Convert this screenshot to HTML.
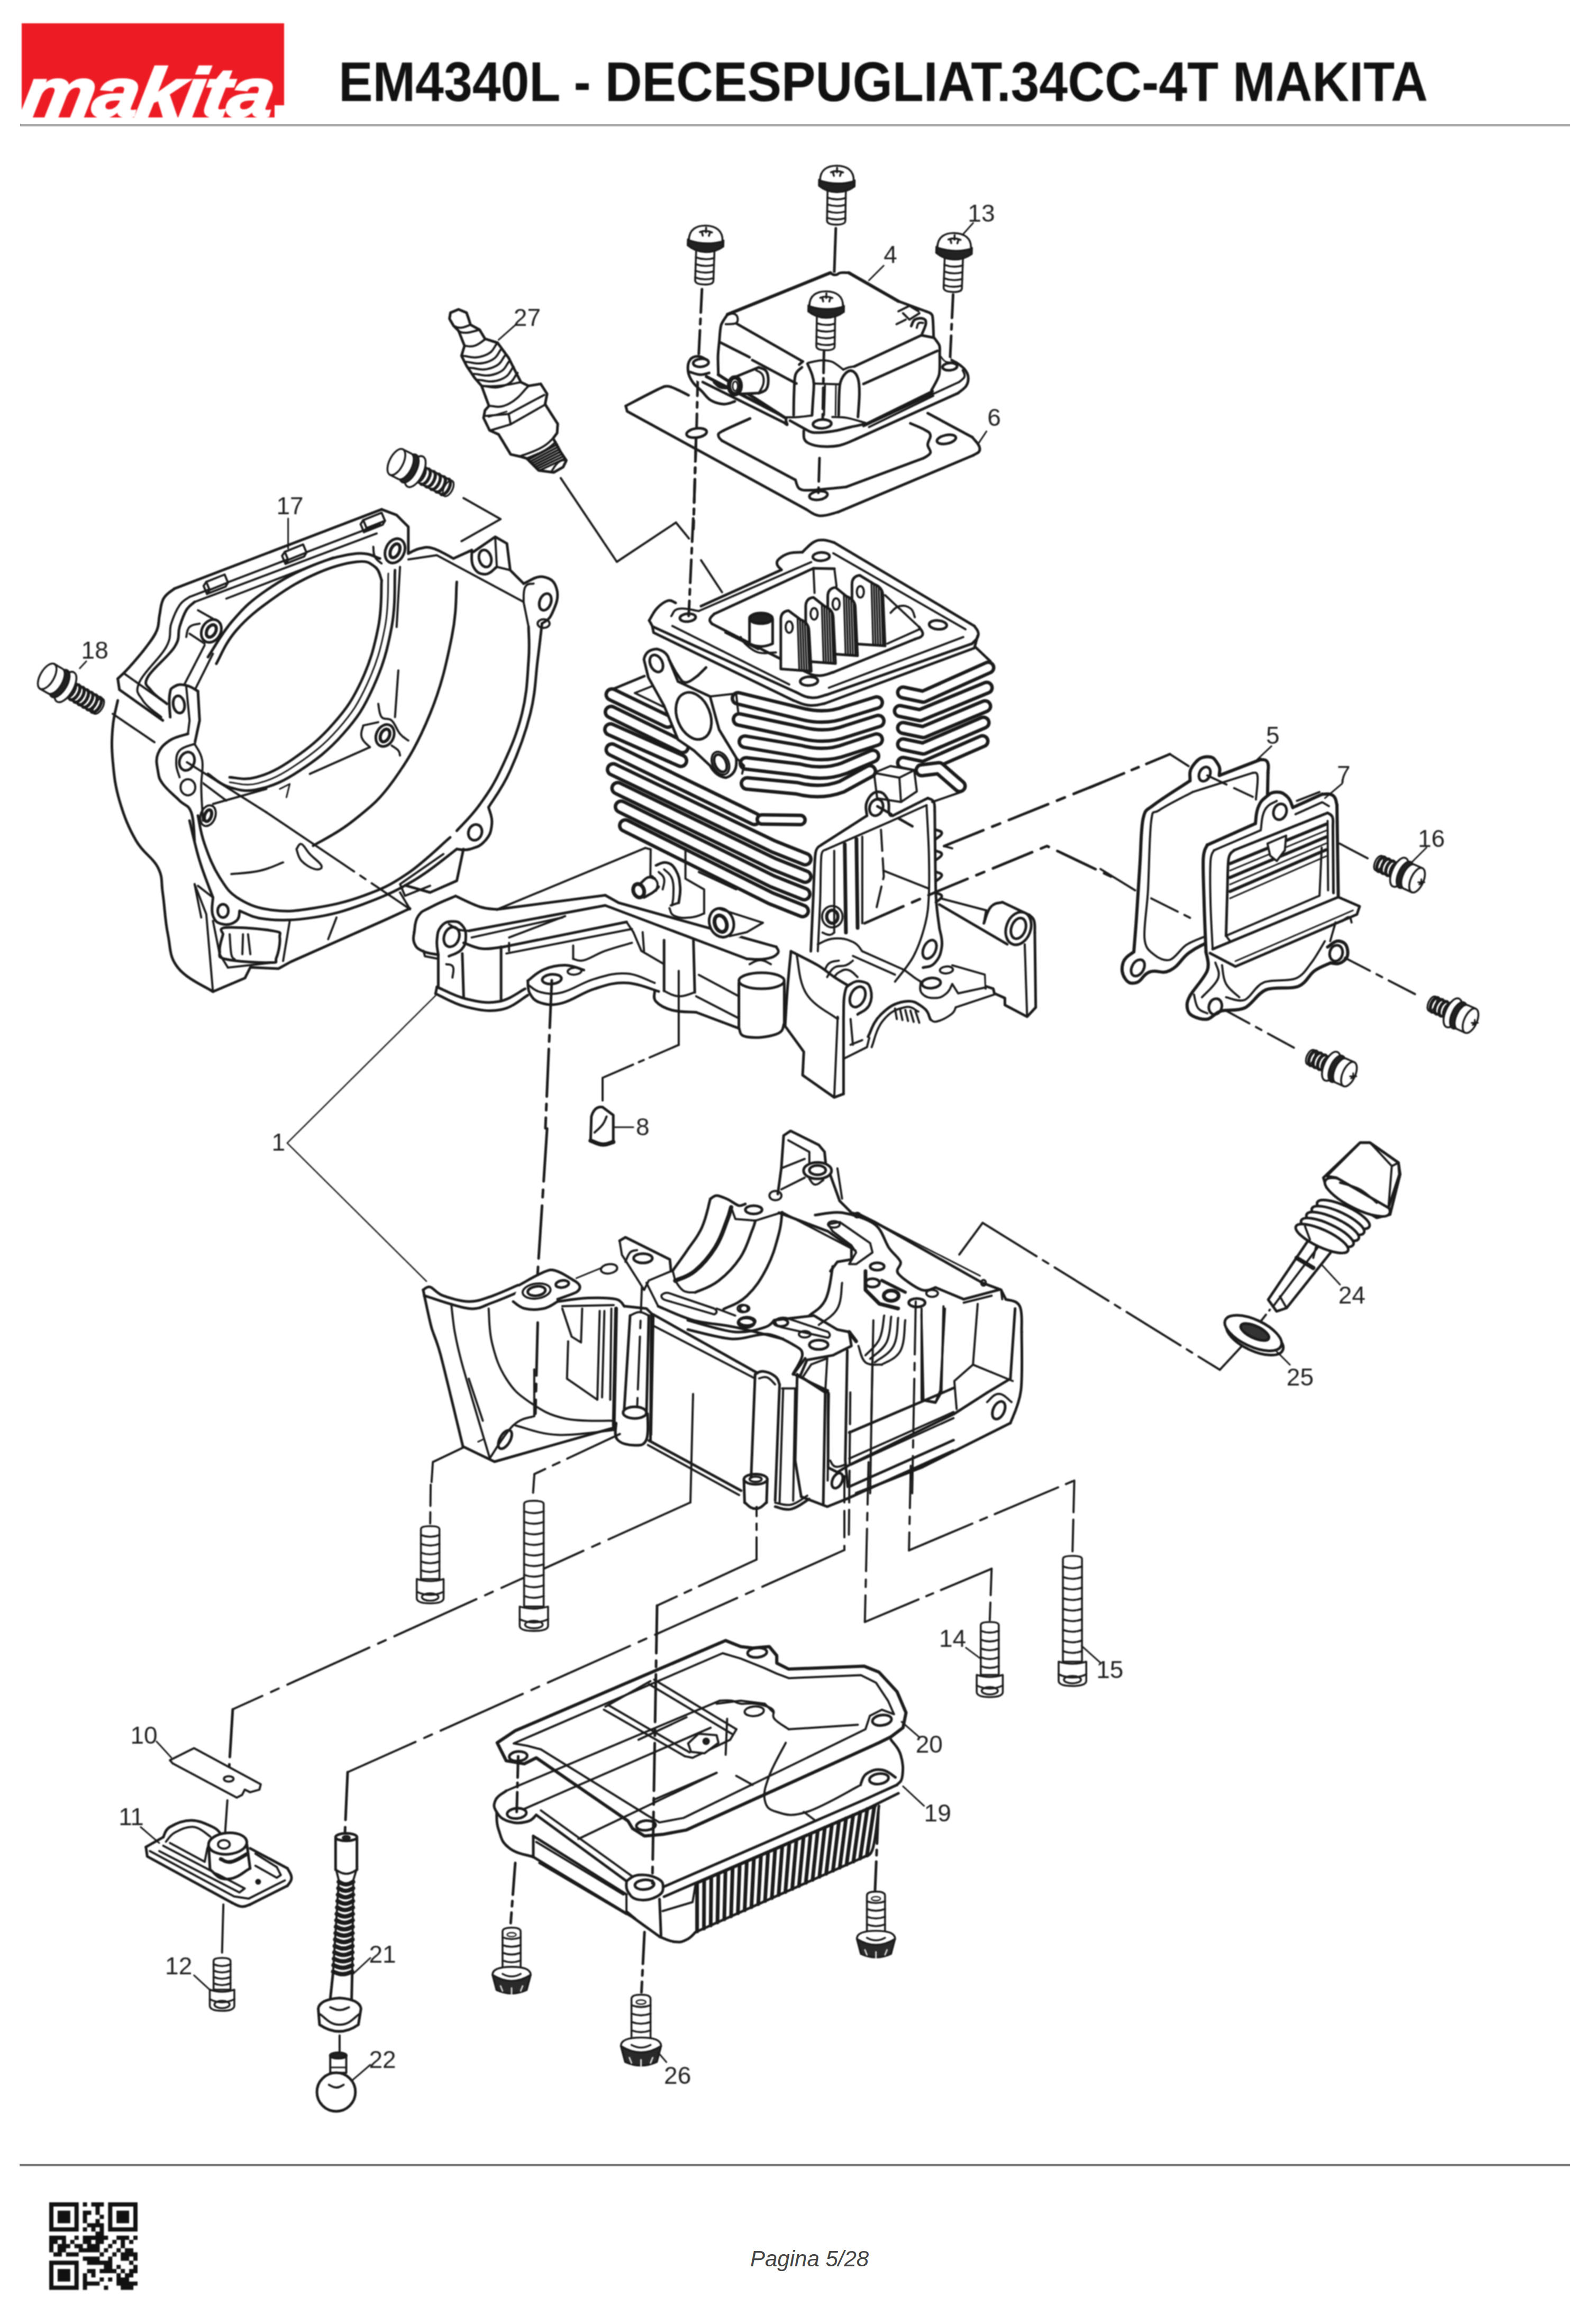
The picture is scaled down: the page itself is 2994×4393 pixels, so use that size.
<!DOCTYPE html>
<html lang="it">
<head>
<meta charset="utf-8">
<title>EM4340L - DECESPUGLIAT.34CC-4T MAKITA</title>
<style>
html,body{margin:0;padding:0;background:#fff;}
body{width:2994px;height:4393px;position:relative;overflow:hidden;font-family:"Liberation Sans",sans-serif;}
#logo{filter:blur(1px);position:absolute;left:41px;top:44px;width:496px;height:180px;overflow:hidden;}
#logo .red{position:absolute;left:0;top:0;width:496px;height:155px;background:#ed1c24;}
#logo .red2{position:absolute;left:0;top:150px;width:478px;height:28px;background:#ed1c24;}
#logo .clip{position:absolute;left:0;top:0;width:496px;height:180px;overflow:hidden;}
#logo .mk{position:absolute;left:-5px;top:66px;font:italic bold 130px/130px "Liberation Sans",sans-serif;color:#fff;white-space:nowrap;transform:skewX(-9deg) scaleX(1.2);transform-origin:0 110px;letter-spacing:-3px;-webkit-text-stroke:4px #fff;}
#title{filter:blur(0.9px);position:absolute;left:639.5px;top:101.7px;font:bold 105px/105px "Liberation Sans",sans-serif;color:#111;white-space:nowrap;transform:scaleX(0.9214);transform-origin:0 0;}
#hr1{position:absolute;left:38px;top:234px;width:2930px;height:5px;background:#a9a9a9;}
#hr2{position:absolute;left:37px;top:4090px;width:2931px;height:5px;background:#777;}
#pg{position:absolute;left:1418px;top:4246px;font:italic 42px/48px "Liberation Sans",sans-serif;color:#444;white-space:nowrap;}
#dia{position:absolute;left:0;top:0;filter:blur(1.1px);}
#dia text{font-family:"Liberation Sans",sans-serif;font-size:46px;fill:#222;stroke:none;}
</style>
</head>
<body>
<div id="logo"><div class="red"></div><div class="red2"></div><div class="clip"><div class="mk">makita</div></div></div>
<div id="title">EM4340L - DECESPUGLIAT.34CC-4T MAKITA</div>
<div id="hr1"></div>
<svg id="dia" width="2994" height="4393" viewBox="0 0 2994 4393" fill="none" stroke="#1a1a1a" stroke-width="5" stroke-linecap="round" stroke-linejoin="round">
<!-- 05_leaders.svg -->
<g>
<path d="M1310 2635 L1305 2840" stroke-width="4"/>
<path d="M1305 2840 L440 3231" stroke-width="4" stroke-dasharray="170 18 16 18"/>
<path d="M1596 2790 L1596 2930" stroke-width="4" stroke-dasharray="50 16"/>
<path d="M1596 2930 L657 3350" stroke-width="4" stroke-dasharray="170 18 16 18"/>
<path d="M1430 2806 L1430 2948" stroke-width="4" stroke-dasharray="60 14 12 14"/>
<path d="M1430 2948 L1242 3035" stroke-width="4" stroke-dasharray="120 16 14 16"/>
<path d="M1242 3035 L1233 3560" stroke-dasharray="90 14 12 14"/>
</g>
<!-- 06_leaders2.svg -->
<g>
<path d="M1641.7 2763.9 L1634.7 3066" stroke-width="4" stroke-dasharray="80 16 14 16"/>
<path d="M1634.7 3066 L1874.3 2965.3" stroke-width="4" stroke-dasharray="110 16 14 16"/>
<path d="M1874.3 2965.3 L1870.8 3062.5" stroke-width="4" stroke-dasharray="50 14"/>
<path d="M1721.5 2770.8 L1718.1 2930.6" stroke-width="4" stroke-dasharray="80 16 14 16"/>
<path d="M1718.1 2930.6 L2030.6 2798.6" stroke-width="4" stroke-dasharray="130 16 14 16"/>
<path d="M2030.6 2798.6 L2027.1 2937.5" stroke-width="4" stroke-dasharray="60 14"/>
<g transform="translate(1870.8 3066) rotate(0) scale(1)" stroke-width="3.6"><path d="M-17 6 Q-17 0 0 0 Q17 0 17 6 L17 100 L-17 100 Z" fill="#fff"/><path d="M-17 16.6667 Q0 23.6667 17 16.6667"/><path d="M-17 33.3333 Q0 40.3333 17 33.3333"/><path d="M-17 50 Q0 57 17 50"/><path d="M-17 66.6667 Q0 73.6667 17 66.6667"/><path d="M-17 83.3333 Q0 90.3333 17 83.3333"/><path d="M-24.65 100 L-24.65 132 Q-24.65 142 0 142 Q24.65 142 24.65 132 L24.65 100 Q0 108 -24.65 100 Z" fill="#fff"/><ellipse cx="0" cy="130" rx="15.283" ry="7"/><path d="M-24.65 120 Q0 132 24.65 120"/></g>
<g transform="translate(2027.1 2941) rotate(0) scale(1)" stroke-width="3.6"><path d="M-18 6 Q-18 0 0 0 Q18 0 18 6 L18 200 L-18 200 Z" fill="#fff"/><path d="M-18 20 Q0 27 18 20"/><path d="M-18 40 Q0 47 18 40"/><path d="M-18 60 Q0 67 18 60"/><path d="M-18 80 Q0 87 18 80"/><path d="M-18 100 Q0 107 18 100"/><path d="M-18 120 Q0 127 18 120"/><path d="M-18 140 Q0 147 18 140"/><path d="M-18 160 Q0 167 18 160"/><path d="M-18 180 Q0 187 18 180"/><path d="M-26.1 200 L-26.1 236 Q-26.1 246 0 246 Q26.1 246 26.1 236 L26.1 200 Q0 208 -26.1 200 Z" fill="#fff"/><ellipse cx="0" cy="234" rx="16.182" ry="7"/><path d="M-26.1 224 Q0 236 26.1 224"/></g>
<text x="1775" y="3112.5">14</text>
<path d="M1825.7 3114.6 L1853.5 3135.4" stroke-width="3"/>
<text x="2072.2" y="3171.5">15</text>
<path d="M2044.4 3111.1 L2079.2 3142.4" stroke-width="3"/>
</g>
<!-- 07_bolts.svg -->
<g>
<path d="M876.3 2735.9 L818.2 2763.6 L815.7 2801.5" stroke-width="4"/>
<path d="M814.1 2806.6 L813.1 2879.8" stroke-width="4" stroke-dasharray="40 12"/>
<path d="M1171.7 2710.6 L1010.1 2786.4" stroke-width="4" stroke-dasharray="110 16 14 16"/>
<path d="M1010.1 2786.4 L1007.6 2821.7" stroke-width="4"/>
<g transform="translate(813.1 2884.8) rotate(0) scale(1)" stroke-width="3.6"><path d="M-17.5 6 Q-17.5 0 0 0 Q17.5 0 17.5 6 L17.5 100 L-17.5 100 Z" fill="#fff"/><path d="M-17.5 16.6667 Q0 23.6667 17.5 16.6667"/><path d="M-17.5 33.3333 Q0 40.3333 17.5 33.3333"/><path d="M-17.5 50 Q0 57 17.5 50"/><path d="M-17.5 66.6667 Q0 73.6667 17.5 66.6667"/><path d="M-17.5 83.3333 Q0 90.3333 17.5 83.3333"/><path d="M-25.375 100 L-25.375 136 Q-25.375 146 0 146 Q25.375 146 25.375 136 L25.375 100 Q0 108 -25.375 100 Z" fill="#fff"/><ellipse cx="0" cy="134" rx="15.7325" ry="7"/><path d="M-25.375 124 Q0 136 25.375 124"/></g>
<g transform="translate(1009.1 2836.9) rotate(0) scale(1)" stroke-width="3.6"><path d="M-18.5 6 Q-18.5 0 0 0 Q18.5 0 18.5 6 L18.5 200 L-18.5 200 Z" fill="#fff"/><path d="M-18.5 20 Q0 27 18.5 20"/><path d="M-18.5 40 Q0 47 18.5 40"/><path d="M-18.5 60 Q0 67 18.5 60"/><path d="M-18.5 80 Q0 87 18.5 80"/><path d="M-18.5 100 Q0 107 18.5 100"/><path d="M-18.5 120 Q0 127 18.5 120"/><path d="M-18.5 140 Q0 147 18.5 140"/><path d="M-18.5 160 Q0 167 18.5 160"/><path d="M-18.5 180 Q0 187 18.5 180"/><path d="M-26.825 200 L-26.825 236 Q-26.825 246 0 246 Q26.825 246 26.825 236 L26.825 200 Q0 208 -26.825 200 Z" fill="#fff"/><ellipse cx="0" cy="234" rx="16.6315" ry="7"/><path d="M-26.825 224 Q0 236 26.825 224"/></g>
</g>
<!-- 10_top_a.svg -->
<g>
<path d="M1326.8 546.7 L1320.7 671.4" stroke-dasharray="44 12 10 12"/>
<path d="M1319.2 704.2 L1316.7 807.8" stroke-dasharray="44 12 10 12"/>
<path d="M1315.7 828 L1310.6 1000.2" stroke-dasharray="44 12 10 12"/>
<path d="M1579.8 431.5 L1576.8 516.4"/>
<path d="M1801.5 556.8 L1795.5 684" stroke-dasharray="44 12 10 12"/>
<path d="M1549 865.9 L1547 931.5" stroke-dasharray="44 12 10 12"/>
<path d="M1182.8 767.4 C1190.1 763.7 1246.2 733.5 1256.1 730.5 C1265.9 727.5 1276.8 735.4 1281.3 737.1 C1285.8 738.8 1299.5 746.2 1301.5 747.2"/>
<path d="M1182.8 767.4 L1185.4 777.5 L1523.7 962.8"/>
<path d="M1523.7 962.8 C1528.8 965.2 1536.9 973.9 1549 974.9 C1561.1 975.9 1577.2 969.3 1584.3 967.9"/>
<path d="M1584.3 967.9 L1839.4 860.8"/>
<path d="M1839.4 860.8 C1842.8 857.4 1852.4 857.3 1852 848.2 C1851.6 839.1 1841.7 832.3 1837.9 826.5"/>
<path d="M1837.9 826.5 L1753.5 781"/>
<path d="M1417.7 791.1 C1408.8 795.1 1374.5 809.9 1364.6 815.4 C1354.7 820.9 1358.1 821.5 1358.1 824.4 C1358.1 827.3 1363.5 831.6 1364.6 833"/>
<path d="M1364.6 833 L1503.5 907.3"/>
<path d="M1503.5 907.3 C1504.8 910.1 1506.0 920.7 1511.1 923.9 C1516.1 927.1 1519.1 927.1 1533.8 926.5 C1548.5 925.9 1588.5 921.4 1599.5 920.4"/>
<path d="M1599.5 920.4 L1746 865.9"/>
<path d="M1746 865.9 C1748.5 863.9 1757.1 860.9 1758.6 855.8 C1760.1 850.7 1753.5 847.2 1753.5 840.6 C1753.5 834.0 1759.6 828.5 1758.6 822.9 C1757.6 817.3 1756.1 817.3 1748.5 812.8 C1740.9 808.3 1726.3 802.7 1720.7 800.2"/>
<ellipse cx="1316.7" cy="818.4" rx="19.2" ry="8.6" transform="rotate(-8 1316.7 818.4)"/>
<ellipse cx="1547" cy="936.6" rx="17.2" ry="8.1" transform="rotate(-8 1547 936.6)"/>
<ellipse cx="1788.9" cy="830.5" rx="18.2" ry="8.1" transform="rotate(-12 1788.9 830.5)"/>
<text x="1866.2" y="805.3">6</text>
<path d="M1849.5 838.1 L1864.6 815.4" stroke-width="3"/>
<text x="1829.3" y="418.9">13</text>
<path d="M1816.7 446.7 L1839.4 421.4" stroke-width="3"/>
<text x="1670.2" y="497.2">4</text>
<path d="M1642.4 530 L1670.2 502.2" stroke-width="3"/>
</g>
<!-- 11_cover.svg -->
<g>
<path d="M 1330 680.6 L 1309.2 694.4 L 1309.2 715.3 L 1330 725.7 L 1519.2 814.2 Q 1519.2 835.1 1552.2 843.8 Q 1593.9 842 1635.6 822.9 L 1810.9 743.1 Q 1833.5 722.2 1824.8 699.7 Q 1816.1 684 1798.8 678.8 L 1777.9 666.7 L 1774.4 708.3 L 1760.6 736.1 L 1635.6 798.6 L 1552.2 743.1 L 1482.8 788.2 L 1357.8 708.3 Z" stroke-width="0" fill="#fff"/>
<path d="M1336.9 680.6 C1333.4 679.2 1326.2 673.6 1319.6 673.6 C1313.0 673.6 1307.8 675.0 1304 680.6 C1300.2 686.2 1299.5 693.1 1300.5 701.4 C1301.5 709.7 1304.0 714.6 1309.2 722.2 C1314.4 729.8 1319.6 732.7 1326.5 739.6 C1333.4 746.5 1335.6 752.0 1343.9 756.9 C1352.2 761.8 1359.2 763.5 1368.2 763.9 C1377.2 764.3 1384.8 759.7 1389 758.7"/>
<ellipse cx="1324.8" cy="685.8" rx="14.6" ry="7.6" transform="rotate(-5 1324.8 685.8)"/>
<path d="M1304 703.1 C1307.8 704.1 1315.8 707.9 1323.1 708.3 C1330.4 708.7 1336.9 705.6 1340.4 704.9"/>
<path d="M1328.3 722.2 L1482.8 799.3"/>
<path d="M1335.2 711.8 L1486.2 789.9" stroke-width="6"/>
<path d="M1482.8 799.3 C1483.8 800.0 1487.4 803.6 1488 802.8 C1488.6 802.0 1486.0 797.7 1485.6 795.1 C1485.2 792.5 1486.1 790.9 1486.2 789.9"/>
<path d="M1493.2 795.1 L1524.4 812.5"/>
<path d="M1519.2 814.2 C1519.4 816.8 1518.5 825.9 1520.3 829.9 C1522.0 833.9 1524.4 836.2 1529.7 838.5 C1535.0 840.8 1542.7 843.2 1552.2 843.8 C1561.7 844.4 1575.9 844.3 1586.9 842 C1597.9 839.7 1613.0 831.9 1618.2 829.9"/>
<path d="M1618.2 829.9 L1810.9 743.1"/>
<path d="M1810.9 743.1 C1813.5 740.8 1823.3 734.4 1826.5 729.2 C1829.7 724.0 1830.6 717.0 1830 711.8 C1829.4 706.6 1826.3 701.9 1823.1 697.9 C1819.9 693.9 1815.0 690.4 1810.9 687.5 C1806.9 684.6 1800.8 681.8 1798.8 680.6"/>
<path d="M1524.4 812.5 C1526.7 813.4 1530.2 817.2 1538.3 817.7 C1546.4 818.2 1561.5 817.0 1573.1 815.3 C1584.7 813.6 1598.0 809.5 1607.8 807.3 C1617.6 805.1 1628.0 803.0 1632.1 802.1"/>
<path d="M1632.1 805.6 L1812.6 722.2" stroke-width="4"/>
<path d="M1812.6 722.2 C1814.7 720.1 1821.7 716.3 1823.1 711.8 C1824.5 707.3 1820.3 702.1 1819.6 699.7" stroke-width="4"/>
<path d="M1635.6 799.3 L1760.6 739.6" stroke-width="9"/>
<path d="M1642.5 807.3 L1764 748.3" stroke-width="4"/>
<path d="M 1359.5 645.8 L 1363 611.1 L 1375.1 594.4 L 1569.6 515.6 L 1604.3 515.6 L 1750.1 588.5 L 1763.3 600.7 L 1764.7 637.2 L 1776.2 666.7 L 1774.4 708.3 L 1760.6 737.8 L 1635.6 799.3 L 1552.2 805.6 L 1482.8 788.9 L 1357.8 710.1 Z" stroke-width="0" fill="#fff"/>
<path d="M1357.8 708.3 C1357.7 703.7 1356.9 681.9 1357.1 673.6 C1357.3 665.3 1358.7 653.7 1359.5 645.8 C1360.3 637.9 1360.9 621.5 1363 614.6 C1365.1 607.7 1373.5 597.1 1375.1 594.4"/>
<path d="M1375.1 594.4 L1569.6 515.6" stroke-width="6"/>
<path d="M1569.6 515.6 C1570.6 516.3 1572.4 518.4 1574.8 519.1 C1577.2 519.8 1578.9 519.8 1581.7 519.1 C1584.5 518.4 1584.2 516.3 1588.7 515.6 C1593.2 514.9 1601.2 515.6 1604.3 515.6"/>
<path d="M1604.3 515.6 L1698.1 569.4" stroke-width="6"/>
<path d="M1698.1 569.4 L1750.1 588.5"/>
<path d="M1750.1 588.5 C1751.8 589.4 1758.4 591.2 1760.6 593.8 C1762.8 596.4 1762.6 597.0 1763.3 604.2 C1764.0 611.4 1764.5 631.7 1764.7 637.2"/>
<path d="M1764.7 637.2 C1766.1 639.3 1774.0 648.9 1775.5 652.8 C1777.0 656.7 1776.3 659.3 1776.2 666.7 C1776.1 674.1 1777.2 698.8 1775.1 708.3 C1773.0 717.8 1762.5 733.9 1760.6 737.8"/>
<path d="M1375.1 594.4 C1377.5 594.1 1383.5 591.8 1387.3 593.1 C1391.1 594.4 1393.5 597.1 1394.2 600.7 C1394.9 604.3 1395.3 608.7 1390.8 611.1 C1386.3 613.5 1375.5 612.5 1371.7 612.8" stroke-width="4"/>
<path d="M1392.5 611.8 L1517.5 683.3"/>
<path d="M1614.7 692.7 L1741.5 633.7"/>
<path d="M1741.5 633.7 L1764.7 638.2"/>
<path d="M1361.9 647.6 L1416.8 675.3"/>
<path d="M1422 680.6 L1505.3 725"/>
<path d="M1632.1 725.7 L1771.7 663.2"/>
<path d="M1357.8 708.3 L1482.8 788.9" stroke-width="6"/>
<path d="M1698.1 588.5 L1718.9 578.1 L1736.2 588.5" stroke-width="4"/>
<path d="M1694.6 612.8 L1711.9 604.2" stroke-width="4"/>
<path d="M1706.7 592 L1718.9 604.2 L1738 592" stroke-width="4"/>
<path d="M1722.4 616.3 C1723.8 613.9 1724.8 607.0 1729.3 604.2 C1733.8 601.4 1740.7 601.0 1744.9 602.4 C1749.1 603.8 1750.4 605.5 1750.1 611.1 C1749.8 616.7 1744.6 626.4 1743.2 630.2"/>
<path d="M1732.8 619.8 C1733.5 618.1 1733.8 613.0 1736.2 611.1 C1738.6 609.2 1743.2 610.5 1744.9 610.4" stroke-width="4"/>
<path d="M 1389 713.5 L 1434.2 694.4 Q 1451.5 699.7 1451.5 722.2 Q 1449.8 739.6 1434.2 743.1 L 1396 744.8 Z" stroke-width="0" fill="#fff"/>
<path d="M1387.3 713.5 L1434.2 694.4"/>
<path d="M1434.2 694.4 C1437.0 695.8 1444.5 696.5 1448.1 701.4 C1451.7 706.3 1452.2 711.9 1452.2 718.8 C1452.2 725.7 1451.7 731.2 1448.1 736.1 C1444.5 741.0 1437.0 741.7 1434.2 743.1"/>
<path d="M1429 699.7 C1431.4 701.4 1438.3 703.1 1441.1 708.3 C1443.9 713.5 1444.2 718.7 1442.8 725.7 C1441.4 732.7 1435.9 739.6 1434.2 743.1" stroke-width="4"/>
<path d="M1397.7 744.8 L1434.2 743.1"/>
<ellipse cx="1389" cy="729.2" rx="11.1" ry="16" stroke-width="8" fill="#fff"/>
<ellipse cx="1389.7" cy="729.9" rx="4.9" ry="9" stroke-width="3"/>
<path d="M1350.8 722.2 C1352.9 723.9 1356.3 728.8 1361.2 730.9 C1366.1 733.0 1372.3 732.3 1375.1 732.6" stroke-width="7"/>
<path d="M1500.1 784.7 C1500.2 777.8 1500.2 755.8 1500.8 743.1 C1501.4 730.4 1501.1 716.4 1503.6 708.3 C1506.1 700.2 1513.8 696.7 1515.8 694.4"/>
<path d="M1517.5 683.3 L1510.6 689.2"/>
<path d="M1526.2 687.5 C1527.7 691.0 1532.9 701.9 1534.9 708.3 C1536.9 714.7 1538.0 717.6 1538.3 725.7 C1538.6 733.8 1537.2 747.1 1536.6 756.9 C1536.0 766.7 1535.2 780.1 1534.9 784.7"/>
<path d="M1527.9 685.8 C1532.0 685.0 1544.7 681.5 1552.2 681.2 C1559.7 680.9 1566.1 681.1 1573.1 684 C1580.0 686.9 1590.4 696.2 1593.9 698.6" stroke-width="4"/>
<path d="M1585.2 784.7 C1585.4 777.8 1585.6 753.5 1586.2 743.1 C1586.8 732.7 1586.6 728.6 1588.7 722.2 C1590.8 715.8 1595.3 708.4 1599.1 704.9 C1602.8 701.4 1607.4 699.7 1611.2 701.4 C1615.0 703.1 1619.5 708.3 1621.7 715.3 C1623.9 722.2 1624.4 731.0 1624.4 743.1 C1624.4 755.2 1622.2 780.7 1621.7 788.2"/>
<path d="M1538.3 725 L1587.6 726.4" stroke-width="4"/>
<path d="M1593.9 698.6 C1595.6 697.9 1600.8 695.4 1604.3 694.4 C1607.8 693.4 1613.0 693.0 1614.7 692.7" stroke-width="4"/>
<path d="M1559.2 729.2 L1557.4 784.7" stroke-width="4"/>
<path d="M1580 729.2 L1579.3 784.7" stroke-width="3"/>
<ellipse cx="1554" cy="801.4" rx="17.4" ry="8.3" transform="rotate(-3 1554 801.4)"/>
<ellipse cx="1795.3" cy="693.1" rx="13.9" ry="6.9" transform="rotate(-5 1795.3 693.1)"/>
<path d="M1777.9 673.6 C1779.6 675.3 1783.1 682.0 1788.3 684 C1793.5 686.0 1805.7 685.5 1809.2 685.8" stroke-width="3"/>
<path d="M1482.8 788.9 C1487.4 788.8 1501.9 788.8 1510.6 788.2 C1519.3 787.6 1530.9 785.9 1534.9 785.4" stroke-width="4"/>
<path d="M1573.1 788.2 C1577.7 788.5 1590.4 788.0 1600.8 789.9 C1611.2 791.8 1629.8 797.7 1635.6 799.3" stroke-width="4"/>
<path d="M1557.4 664.9 L1555 793.4" stroke-dasharray="40 10 8 10"/>
</g>
<!-- 12_top_screws.svg -->
<g>
<g transform="translate(1582.3 313.3) rotate(1) scale(0.96)" stroke-width="3.75"><path d="M-18 44 L-18 108 Q-18 116 0 116 Q18 116 18 108 L18 44 Z" fill="#fff"/><path d="M-18 63.2 Q0 69.2 18 63.2"/><path d="M-18 76.4 Q0 82.4 18 76.4"/><path d="M-18 89.6 Q0 95.6 18 89.6"/><path d="M-18 102.8 Q0 108.8 18 102.8"/><path d="M-35 28 L35 28 L35 40 Q20 52 0 52 Q-20 52 -35 40 Z" fill="#222"/><path d="M-33 30 C-34 8 -18 0 0 0 C18 0 34 8 33 30 Q0 40 -33 30 Z" fill="#fff"/><path d="M-12 13 Q0 8 12 13 M0 4 L0 13 M-6 20 L-8 13 M6 20 L8 13"/></g>
<g transform="translate(1334.8 426.5) rotate(2) scale(0.96)" stroke-width="3.75"><path d="M-18 44 L-18 108 Q-18 116 0 116 Q18 116 18 108 L18 44 Z" fill="#fff"/><path d="M-18 63.2 Q0 69.2 18 63.2"/><path d="M-18 76.4 Q0 82.4 18 76.4"/><path d="M-18 89.6 Q0 95.6 18 89.6"/><path d="M-18 102.8 Q0 108.8 18 102.8"/><path d="M-35 28 L35 28 L35 40 Q20 52 0 52 Q-20 52 -35 40 Z" fill="#222"/><path d="M-33 30 C-34 8 -18 0 0 0 C18 0 34 8 33 30 Q0 40 -33 30 Z" fill="#fff"/><path d="M-12 13 Q0 8 12 13 M0 4 L0 13 M-6 20 L-8 13 M6 20 L8 13"/></g>
<g transform="translate(1804.5 440.6) rotate(2) scale(0.96)" stroke-width="3.75"><path d="M-18 44 L-18 108 Q-18 116 0 116 Q18 116 18 108 L18 44 Z" fill="#fff"/><path d="M-18 63.2 Q0 69.2 18 63.2"/><path d="M-18 76.4 Q0 82.4 18 76.4"/><path d="M-18 89.6 Q0 95.6 18 89.6"/><path d="M-18 102.8 Q0 108.8 18 102.8"/><path d="M-35 28 L35 28 L35 40 Q20 52 0 52 Q-20 52 -35 40 Z" fill="#222"/><path d="M-33 30 C-34 8 -18 0 0 0 C18 0 34 8 33 30 Q0 40 -33 30 Z" fill="#fff"/><path d="M-12 13 Q0 8 12 13 M0 4 L0 13 M-6 20 L-8 13 M6 20 L8 13"/></g>
<g transform="translate(1562.1 550.7) rotate(1) scale(0.96)" stroke-width="3.75"><path d="M-18 44 L-18 108 Q-18 116 0 116 Q18 116 18 108 L18 44 Z" fill="#fff"/><path d="M-18 63.2 Q0 69.2 18 63.2"/><path d="M-18 76.4 Q0 82.4 18 76.4"/><path d="M-18 89.6 Q0 95.6 18 89.6"/><path d="M-18 102.8 Q0 108.8 18 102.8"/><path d="M-35 28 L35 28 L35 40 Q20 52 0 52 Q-20 52 -35 40 Z" fill="#222"/><path d="M-33 30 C-34 8 -18 0 0 0 C18 0 34 8 33 30 Q0 40 -33 30 Z" fill="#fff"/><path d="M-12 13 Q0 8 12 13 M0 4 L0 13 M-6 20 L-8 13 M6 20 L8 13"/></g>
</g>
<!-- 20_fan.svg -->
<g>
<path d="M721.3 962.9 L329.9 1112.6"/>
<path d="M329.9 1112.6 C325.7 1116.4 314.8 1121.4 309.1 1131.5 C303.4 1141.6 304.0 1151.1 301.5 1163.1 C299.0 1175.1 301.5 1179.5 296.5 1191.5 C291.5 1203.5 286.7 1209.1 276.3 1223 C265.9 1236.9 255.4 1248.9 244.7 1260.9 C234.0 1272.9 227.0 1278.6 222.6 1283"/>
<path d="M222.6 1283 L225.8 1303.8 L307.8 1361.9"/>
<path d="M235.2 1273.5 L315.4 1330.4" stroke-width="4"/>
<path d="M315.4 1330.4 C309.5 1325.3 292.9 1315.2 285.7 1305.1 C278.5 1295.0 270.6 1296.2 279.4 1279.8 C288.2 1263.4 317.9 1241.9 329.9 1223 C341.9 1204.1 335.0 1199.1 339.4 1185.2 C343.8 1171.3 346.3 1163.1 352 1153.6 C357.7 1144.1 364.6 1141.0 367.8 1137.8"/>
<path d="M304.7 1355.6 C297.7 1349.3 278.1 1337.3 269.9 1324 C261.7 1310.7 254.8 1309.5 263.6 1289.3 C272.4 1269.1 302.1 1245.1 314.1 1223 C326.1 1200.9 318.5 1194.6 323.6 1178.8 C328.7 1163.0 332.5 1154.2 339.4 1144.1 C346.3 1134.0 354.5 1131.5 358.3 1128.3" stroke-width="4"/>
<path d="M358.3 1128.3 L718.2 990.7" stroke-width="4"/>
<path d="M367.8 1137.8 L711.9 1008.4" stroke-width="4"/>
<path d="M427.8 1131.5 L629.8 1053.8" stroke-width="4"/>
<path d="M222.6 1324 C220.7 1334.1 215.0 1351.8 213.1 1374.5 C211.2 1397.2 210.6 1409.9 213.1 1437.7 C215.6 1465.5 217.0 1483.1 225.8 1513.4 C234.6 1543.7 242.8 1563.9 257.3 1589.2 C271.8 1614.5 288.3 1619.5 298.4 1639.7 C308.5 1659.9 304.0 1664.9 307.8 1690.2 C311.6 1715.5 311.6 1738.2 317.3 1766 C323.0 1793.8 319.2 1807.4 336.2 1829.1 C353.2 1850.8 389.2 1865.4 402.5 1874.5"/>
<path d="M402.5 1874.5 L463.1 1848.7 L473.2 1828.5 L526.3 1831 L549 1818.4 L730.8 1737.6 L775 1717.3"/>
<path d="M367.8 1671.3 L389.9 1728.1 L402.5 1874.5" stroke-width="4"/>
<path d="M367.8 1671.3 L380.4 1734.4" stroke-width="4"/>
<path d="M389.9 1099.9 L424.6 1086 L430.9 1101.2 L396.2 1115.1 Z" stroke-width="4" fill="#fff"/>
<path d="M389.9 1099.9 L384.8 1107.5 L391.2 1122.7 L396.2 1115.1" stroke-width="4"/>
<path d="M391.2 1122.7 L426.5 1108.8 L430.9 1101.2" stroke-width="4"/>
<path d="M538.3 1043.1 L573 1029.2 L579.3 1044.4 L544.6 1058.3 Z" stroke-width="4" fill="#fff"/>
<path d="M538.3 1043.1 L533.2 1050.7 L539.5 1065.8 L544.6 1058.3" stroke-width="4"/>
<path d="M539.5 1065.8 L574.9 1051.9 L579.3 1044.4" stroke-width="4"/>
<path d="M686.6 983.1 L721.3 969.2 L727.7 984.4 L692.9 998.3 Z" stroke-width="4" fill="#fff"/>
<path d="M686.6 983.1 L681.6 990.7 L687.9 1005.9 L692.9 998.3" stroke-width="4"/>
<path d="M687.9 1005.9 L723.2 992 L727.7 984.4" stroke-width="4"/>
<path d="M1024.4 1178.8 C1022.8 1192.7 1020.6 1214.2 1016.2 1248.3 C1011.8 1282.4 1012.7 1307.6 1002.3 1349.3 C991.9 1391.0 980.2 1421.2 964.4 1456.6 C948.6 1492.0 931.6 1512.2 923.4 1526.1"/>
<path d="M999.1 1185.2 C999.1 1197.8 1001.6 1215.5 999.1 1248.3 C996.6 1281.1 996.6 1308.9 986.5 1349.3 C976.4 1389.7 964.4 1416.2 948.6 1450.3 C932.8 1484.4 924.6 1495.7 907.6 1519.7 C890.6 1543.7 872.2 1560.2 863.4 1570.3"/>
<path d="M863.4 1605 C847.0 1617.0 816.7 1644.1 781.3 1664.9 C745.9 1685.7 724.5 1695.2 686.6 1709.1 C648.7 1723.0 628.5 1728.7 591.9 1734.4 C555.3 1740.1 531.3 1740.1 503.5 1737.6 C475.7 1735.1 463.1 1725.0 453 1721.8"/>
<path d="M850.8 1582.9 C834.4 1596.8 801.5 1630.2 768.7 1652.3 C735.9 1674.4 722.0 1680.5 686.6 1693.4 C651.2 1706.3 626.0 1711.3 591.9 1716.7 C557.8 1722.1 544.0 1723.9 516.2 1720.5 C488.4 1717.1 473.2 1712.1 453 1699.7 C432.8 1687.3 428.5 1679.4 415.2 1658.6 C401.9 1637.8 394.9 1618.9 386.7 1595.5 C378.5 1572.1 376.6 1552.5 374.1 1541.8"/>
<path d="M402.5 1696.5 C397.5 1682.6 386.1 1656.1 377.3 1627.1 C368.5 1598.1 362.1 1566.5 358.3 1551.3"/>
<path d="M923.4 1526.1 C924.9 1533.4 931.2 1542.9 929.7 1557.6 C928.2 1572.3 926.6 1578.1 917 1589.2 C907.4 1600.3 901.1 1601.3 888.6 1605 C876.1 1608.7 869.3 1605.0 863.4 1605"/>
<ellipse cx="898.1" cy="1573.4" rx="12.6" ry="15.2" transform="rotate(20 898.1 1573.4)"/>
<path d="M876 1605 L863.4 1664.9 L812.9 1687 L768.7 1674.4"/>
<path d="M838.1 1614.4 L756.1 1671.3 L765.5 1693.4 L812.9 1674.4" stroke-width="4"/>
<path d="M756.1 1687 L775 1718.6" stroke-width="4"/>
<path d="M453 1721.8 C451.5 1726.2 454.1 1734.8 446.7 1740.7 C439.3 1746.6 431.8 1749.2 421.5 1747 C411.2 1744.8 406.9 1743.0 402.5 1731.2 C398.1 1719.4 402.5 1704.6 402.5 1696.5"/>
<ellipse cx="421.5" cy="1721.8" rx="10.1" ry="12.6"/>
<path d="M771.8 1046.3 C776.2 1044.4 784.4 1038.7 793.9 1036.8 C803.4 1034.9 806.6 1033.0 819.2 1036.8 C831.8 1040.6 849.5 1051.9 857.1 1055.7"/>
<path d="M857.1 1055.7 L891.8 1039.9"/>
<path d="M771.8 1057.6 L825.5 1049.4 L989.6 1137.8 L999.1 1185.2" stroke-width="4"/>
<path d="M894.9 1043.1 L936 1014.7 L958.1 1027.3 L964.4 1077.8 L989.6 1103.1"/>
<path d="M891.8 1039.9 C892.5 1047.3 889.0 1060.9 894.9 1071.5 C900.8 1082.1 906.7 1085.4 917 1085.4 C927.3 1085.4 933.9 1074.7 939.1 1071.5"/>
<ellipse cx="917" cy="1055.7" rx="11.4" ry="16.4" transform="rotate(-15 917 1055.7)"/>
<path d="M936 1014.7 L939.1 1071.5 L964.4 1077.8" stroke-width="4"/>
<path d="M989.6 1103.1 C998.4 1100.2 1012.8 1087.6 1027.5 1090.5 C1042.2 1093.4 1049.1 1099.5 1052.8 1115.7 C1056.5 1131.9 1049.9 1145.2 1043.3 1159.9 C1036.7 1174.6 1028.8 1174.4 1024.4 1178.8"/>
<path d="M989.6 1137.8 C990.3 1131.2 988.4 1117.5 992.8 1109.4 C997.2 1101.3 1004.9 1104.6 1008.6 1103.1" stroke-width="4"/>
<ellipse cx="1030.7" cy="1137.8" rx="10.7" ry="16.4" transform="rotate(20 1030.7 1137.8)"/>
<ellipse cx="1027.5" cy="1178.8" rx="11.4" ry="8.2" stroke-width="4"/>
<path d="M746.6 1077.8 C745.3 1099.3 748.5 1141.0 740.3 1185.2 C732.1 1229.4 723.9 1258.4 705.6 1298.8 C687.3 1339.2 676.5 1355.6 648.7 1387.2 C620.9 1418.8 598.3 1435.8 566.7 1456.6 C535.1 1477.4 517.4 1485.0 490.9 1491.3 C464.4 1497.6 453.7 1493.9 434.1 1488.2 C414.5 1482.5 401.3 1468.0 393.1 1462.9"/>
<path d="M721.3 1096.8 C720.0 1114.5 722.6 1147.3 715 1185.2 C707.4 1223.1 700.5 1249.6 683.5 1286.2 C666.5 1322.8 655.7 1338.5 629.8 1368.2 C603.9 1397.9 583.0 1414.3 554 1434.5 C525.0 1454.7 508.6 1462.3 484.6 1469.2 C460.6 1476.1 444.2 1469.2 434.1 1469.2"/>
<path d="M393.1 1242 C402.6 1228.1 418.3 1197.8 440.4 1172.5 C462.5 1147.2 473.2 1136.5 503.5 1115.7 C533.8 1094.9 557.8 1082.3 591.9 1068.4 C626.0 1054.5 648.7 1048.8 674 1046.3 C699.3 1043.8 709.4 1053.8 718.2 1055.7"/>
<path d="M408.8 1254.6 C416.4 1242.0 425.2 1216.1 446.7 1191.5 C468.2 1166.9 485.9 1153.0 516.2 1131.5 C546.5 1110.0 566.6 1098.0 598.2 1084.1 C629.8 1070.2 651.9 1064.5 674 1062 C696.1 1059.5 699.2 1064.5 708.7 1071.5 C718.2 1078.5 718.8 1091.7 721.3 1096.8"/>
<path d="M734 1084.1 C732.7 1104.3 735.7 1143.5 727.7 1185.2 C719.7 1226.9 711.9 1254.0 694.2 1292.5 C676.5 1331.0 666.1 1347.1 639.3 1377.7 C612.5 1408.3 590.7 1424.7 560.4 1445.3 C530.1 1465.9 513.1 1473.9 487.8 1480.6 C462.5 1487.3 444.8 1479.1 434.1 1478.7" stroke-width="3"/>
<path d="M863.4 1099.9 C861.5 1120.7 864.0 1154.2 853.9 1204.1 C843.8 1254.0 835.0 1295.0 812.9 1349.3 C790.8 1403.6 772.4 1435.2 743.4 1475.6 C714.4 1516.0 698.0 1526.7 667.7 1551.3 C637.4 1575.9 607.1 1589.2 591.9 1598.7"/>
<path d="M752.9 1267.2 L746.6 1355.6" stroke-width="4"/>
<path d="M585.6 1462.9 L699.2 1412.4" stroke-width="4"/>
<path d="M437.2 1652.3 C447.9 1651.0 471.3 1650.4 490.9 1646 C510.5 1641.6 526.3 1633.4 535.1 1630.2" stroke-width="4"/>
<path d="M560.4 1605 C562.3 1609.4 562.9 1619.5 569.8 1627.1 C576.7 1634.7 587.5 1641.0 595.1 1642.9 C602.7 1644.8 609.6 1642.2 607.7 1636.5 C605.8 1630.8 593.2 1622.6 585.6 1614.4 C578.0 1606.2 574.8 1597.4 569.8 1595.5 C564.8 1593.6 562.3 1603.1 560.4 1605" stroke-width="4"/>
<path d="M528.8 1491.3 L547.7 1481.9 L541.4 1507.1" stroke-width="3"/>
<path d="M686.6 1371.4 C685.9 1376.6 680.6 1383.9 683.5 1393.5 C686.4 1403.1 695.5 1408.0 699.2 1412.4" stroke-width="4"/>
<path d="M686.6 1371.4 L715 1365.1" stroke-width="4"/>
<ellipse cx="727.7" cy="1390.3" rx="16.4" ry="21.5" transform="rotate(25 727.7 1390.3)" fill="#fff"/>
<ellipse cx="727.7" cy="1390.3" rx="8.2" ry="12.6" transform="rotate(25 727.7 1390.3)" stroke-width="6"/>
<path d="M715 1330.4 C716.3 1335.4 716.2 1349.3 721.3 1355.6 C726.4 1361.9 733.3 1355.6 740.3 1361.9 C747.3 1368.2 749.8 1379.6 756.1 1387.2 C762.4 1394.8 768.7 1397.3 771.8 1399.8" stroke-width="4"/>
<path d="M740.3 1409.3 C742.8 1411.2 749.7 1414.9 752.9 1418.7 C756.1 1422.5 755.5 1426.3 756.1 1428.2" stroke-width="4"/>
<path d="M352 1204.1 C353.5 1199.7 352.4 1191.1 358.3 1185.2 C364.2 1179.3 372.9 1180.3 377.3 1178.8" stroke-width="4"/>
<path d="M374.1 1153.6 L402.5 1169.4" stroke-width="4"/>
<path d="M358.3 1197.8 L386.7 1216.7" stroke-width="4"/>
<ellipse cx="399.4" cy="1192.7" rx="17.7" ry="22.7" transform="rotate(30 399.4 1192.7)" fill="#fff"/>
<ellipse cx="399.4" cy="1192.7" rx="8.2" ry="12.6" transform="rotate(30 399.4 1192.7)" stroke-width="6"/>
<path d="M339.4 1311.4 L386.7 1219.9" stroke-width="4"/>
<path d="M361.5 1317.7 L402.5 1235.7" stroke-width="4"/>
<path d="M705.6 1033.6 C706.3 1038.0 705.0 1045.2 708.7 1052.6 C712.4 1060.0 718.4 1062.3 721.3 1065.2" stroke-width="4"/>
<ellipse cx="746.6" cy="1041.2" rx="17.7" ry="24" transform="rotate(25 746.6 1041.2)" fill="#fff"/>
<ellipse cx="746.6" cy="1041.2" rx="8.2" ry="13.9" transform="rotate(25 746.6 1041.2)" stroke-width="6"/>
<path d="M721.3 962.9 L749.7 973.7 L771.8 995.8 L771.8 1046.3"/>
<path d="M756.1 1071.5 L749.7 1185.2" stroke-width="4"/>
<ellipse cx="393.1" cy="1541.8" rx="13.9" ry="20.2" transform="rotate(20 393.1 1541.8)" stroke-width="4"/>
<ellipse cx="393.1" cy="1541.8" rx="6.3" ry="11.4" transform="rotate(20 393.1 1541.8)" stroke-width="6"/>
<path d="M402.5 1519.7 L503.5 1491.3" stroke-width="4"/>
<path d="M377.3 1475.6 L427.8 1513.4" stroke-width="4"/>
<path d="M 321.7 1355.6 L 321.7 1314.6 Q 329.9 1295.6 352 1295.6 L 374.1 1305.1 L 377.3 1355.6 L 364.6 1399.8 L 339.4 1387.2 Z" stroke-width="0" fill="#fff"/>
<path d="M321.7 1355.6 C321.4 1346.0 318.6 1328.2 320.5 1314.6 C322.4 1301.0 322.5 1301.9 329.9 1297.5 C337.2 1293.1 341.7 1293.5 352 1295.6 C362.3 1297.7 368.9 1303.9 374.1 1306.4"/>
<path d="M374.1 1306.4 L377.3 1361.9 L367.8 1406.1"/>
<path d="M352 1297.5 L358.3 1361.9 L355.2 1387.2" stroke-width="4"/>
<ellipse cx="338.1" cy="1331.6" rx="10.7" ry="16.4" transform="rotate(-10 338.1 1331.6)"/>
<path d="M 307.8 1399.8 L 339.4 1384 L 364.6 1399.8 L 380.4 1425.1 L 383.6 1488.2 L 364.6 1526.1 L 333.1 1513.4 L 304.7 1475.6 L 295.2 1431.4 Z" stroke-width="0" fill="#fff"/>
<path d="M355.2 1387.2 C348.3 1389.7 331.9 1392.2 320.5 1399.8 C309.1 1407.4 302.8 1413.7 298.4 1425.1 C294.0 1436.5 296.5 1445.2 298.4 1456.6 C300.3 1468.0 299.6 1470.5 307.8 1481.9 C316.0 1493.3 328.7 1502.7 339.4 1513.4 C350.1 1524.1 355.8 1520.3 361.5 1535.5 C367.2 1550.7 366.5 1578.5 367.8 1589.2"/>
<path d="M367.8 1406.1 C362.1 1408.6 346.3 1411.1 339.4 1418.7 C332.5 1426.3 333.1 1433.9 333.1 1444 C333.1 1454.1 338.1 1464.2 339.4 1469.2" stroke-width="4"/>
<path d="M367.8 1406.1 C370.7 1412.4 379.8 1421.3 382.3 1437.7 C384.8 1454.1 380.1 1465.5 380.4 1488.2 C380.7 1510.9 383.0 1538.7 383.6 1551.3" stroke-width="4"/>
<ellipse cx="353.3" cy="1438.9" rx="13.9" ry="17.7" transform="rotate(20 353.3 1438.9)"/>
<ellipse cx="355.2" cy="1488.2" rx="13.9" ry="15.2" stroke-width="4"/>
<path d="M213.1 1349.3 L292 1403" stroke-width="4"/>
<path d="M353.3 1440.8 L503.5 1535.5" stroke-width="4"/>
<path d="M503.5 1535.5 L775 1718.6" stroke-width="4" stroke-dasharray="200 14 12 14"/>
<path d="M421.5 1766 C422.8 1763.5 408.9 1754.6 427.8 1753.3 C446.7 1752.0 496.0 1755.8 516.2 1759.6 C536.4 1763.4 527.5 1762.2 528.8 1772.3 C530.1 1782.4 526.3 1800.7 522.5 1810.2 C518.7 1819.7 528.7 1819.0 509.8 1819.6 C490.9 1820.2 446.7 1817.7 427.8 1813.3 C408.9 1808.9 416.5 1807.0 415.2 1797.5 C413.9 1788.0 420.2 1772.3 421.5 1766"/>
<path d="M434.1 1766 C434.7 1773.6 435.3 1794.3 437.2 1803.8 C439.1 1813.3 442.3 1811.4 443.6 1813.3" stroke-width="4"/>
<path d="M459.3 1766 L458.1 1803.8" stroke-width="4"/>
<path d="M468.8 1766 L473.2 1803.8" stroke-width="4"/>
<path d="M402.5 1740.7 L415.2 1803.8 L430.9 1829.1" stroke-width="4"/>
<path d="M430.9 1829.1 L516.2 1819.6" stroke-width="4"/>
<path d="M547.7 1740.7 L535.1 1816.5" stroke-width="4"/>
<path d="M636.1 1734.4 L620.3 1775.4" stroke-width="4"/>
<path d="M374.1 1674.4 L402.5 1696.5" stroke-width="4"/>
<text x="522.5" y="971.8">17</text>
<path d="M544.6 980 L544.6 1036.8" stroke-width="3"/>
</g>
<!-- 21_plug.svg -->
<g>
<path d="M1059.8 903.6 L1165.9 1062" stroke-width="4"/>
<path d="M1165.9 1062 L1277.7 987.7" stroke-width="4" stroke-dasharray="150 14 12 14"/>
<path d="M1277.7 987.7 L1302.3 1018" stroke-width="4"/>
<path d="M1325 1058.9 L1364.8 1119.5" stroke-width="4"/>
<path d="M876.1 941.5 L946.2 981.3 L872.3 1023" stroke-width="4"/>
<path d="M849.6 602.5 L851.5 591.1 L866.7 584.7 L881.8 591.1 L886.4 604.4 L889.4 613.9 L906.4 623.3 L916.7 640.4 L940.5 648 L961.4 676.4 L972.7 699.1 L984.8 722.6 L999.2 729.4 L1022 725.6 L1034.1 744.5 L1030.3 764.2 L1054.2 801.4 L1053 818.4 L1045.5 828.6 L1059.8 854.4 L1070.5 870.3 L1064.4 882.8 L1046.6 893 L1040.9 892.3 L1018.2 889.2 L995.5 866.5 L982.2 862.7 L965.2 858.9 L942.4 821.1 L925.4 813.5 L914 790 L916.7 775.6 L924.2 767.3 L910.2 729.4 L897 714.2 L881.8 691.5 L872.3 672.6 L878 653.6 L866.7 625.2 L857.2 615.8 Z" fill="#fff"/>
<path d="M857.2 615.8 C860.3 616.7 863.0 619.9 870.5 619.5 C878.0 619.1 885.0 615.2 889.4 613.9" stroke-width="4"/>
<path d="M866.7 626.4 C870.2 627.0 872.5 629.7 881.8 629 C891.1 628.3 900.7 624.6 906.4 623.3" stroke-width="4"/>
<path d="M878 653.6 C882.4 653.6 888.0 656.4 897 653.6 C906.0 650.8 912.1 644.3 916.7 641.5" stroke-width="4"/>
<path d="M872.3 672.6 C885.0 672.5 894.3 679.8 914.8 672.4 C935.3 665.0 932.8 655.3 940.5 648" stroke-width="4"/>
<path d="M879.9 683.9 C892.6 683.9 901.8 691.2 922.3 683.8 C942.8 676.4 940.4 666.6 948.1 659.3" stroke-width="4"/>
<path d="M887.5 695.3 C900.2 695.2 909.4 702.5 929.9 695.1 C950.4 687.7 948.0 678.0 955.7 670.7" stroke-width="4"/>
<path d="M895.1 706.7 C907.8 706.6 917.0 713.9 937.5 706.5 C958.0 699.1 955.6 689.4 963.3 682" stroke-width="4"/>
<path d="M902.7 718 C915.4 717.9 924.7 725.2 945.1 717.8 C965.5 710.4 963.1 700.7 970.8 693.4" stroke-width="4"/>
<path d="M910.2 729.4 C923.0 729.3 932.2 736.6 952.7 729.2 C973.2 721.8 970.7 712.1 978.4 704.8" stroke-width="4"/>
<path d="M910.2 729.4 C918.8 729.4 922.5 731.2 942.4 729.4 C962.3 727.6 973.5 724.4 984.8 722.6" stroke-width="4"/>
<path d="M924.2 767.3 C934.1 766.3 941.4 773.6 961.4 763.5 C981.4 753.4 989.1 738.5 999.2 729.4" stroke-width="4"/>
<path d="M917.8 786.2 L961.4 782.4 L1028.8 746.4" stroke-width="4"/>
<path d="M961.4 782.4 L965.2 802.1" stroke-width="4"/>
<path d="M927.3 813.5 L965.2 802.1 L1031.4 764.2" stroke-width="4"/>
<path d="M923.5 788.1 L957.6 777.9" stroke-width="3"/>
<path d="M982.2 862.7 C992.8 858.5 1005.1 855.9 1022 846.8 C1038.9 837.7 1039.2 833.5 1045.5 828.6" stroke-width="4"/>
<path d="M995.5 866.5 C1004.6 862.5 1014.9 859.7 1029.5 851.4 C1044.1 843.1 1044.8 839.7 1050.4 835.5" stroke-width="4"/>
<path d="M999.2 868.8 L1053 840" stroke-width="4"/>
<path d="M1002.7 872.2 L1055.3 844.5" stroke-width="4"/>
<path d="M1006.1 875.6 L1057.6 849.1" stroke-width="4"/>
<path d="M1009.5 879 L1059.8 853.6" stroke-width="4"/>
<path d="M1012.9 882.4 L1062.1 858.2" stroke-width="4"/>
<path d="M1016.3 885.8 L1064.4 862.7" stroke-width="4"/>
<path d="M1019.7 889.2 L1066.7 867.3" stroke-width="4"/>
<path d="M1042.8 890.4 C1046.3 885.8 1049.0 878.9 1056.1 873.3 C1063.2 867.7 1065.8 870.5 1069.3 869.5" stroke-width="4"/>
<text x="970.8" y="615.8">27</text>
<path d="M942.4 642.3 L974.6 613.9" stroke-width="3"/>
<g transform="translate(749.2 873.3) rotate(27) scale(1 1)" stroke-width="3.6"><path d="M40 -16 L110 -16 A8 16 0 0 1 110 16 L40 16 Z" fill="#fff"/><ellipse cx="110" cy="0" rx="8" ry="16" fill="#fff" stroke-width="3"/><path d="M50 -16 A8 16 0 0 1 50 16" stroke-width="6"/><path d="M60.6667 -16 A8 16 0 0 1 60.6667 16" stroke-width="6"/><path d="M71.3333 -16 A8 16 0 0 1 71.3333 16" stroke-width="6"/><path d="M82 -16 A8 16 0 0 1 82 16" stroke-width="6"/><path d="M92.6667 -16 A8 16 0 0 1 92.6667 16" stroke-width="6"/><path d="M103.333 -16 A8 16 0 0 1 103.333 16" stroke-width="6"/><ellipse cx="40" cy="0" rx="15" ry="32" fill="#fff"/><ellipse cx="27" cy="0" rx="14" ry="29" fill="#222"/><path d="M0 -27 L18 -27 A13 27 0 0 1 18 27 L0 27 Z" fill="#fff"/><ellipse cx="0" cy="0" rx="13" ry="27" fill="#fff"/></g>
</g>
<!-- 22_s18.svg -->
<g>
<g transform="translate(89.2 1278.5) rotate(30.2) scale(1 1)" stroke-width="3.6"><path d="M40 -16 L112 -16 A8 16 0 0 1 112 16 L40 16 Z" fill="#fff"/><ellipse cx="112" cy="0" rx="8" ry="16" fill="#fff" stroke-width="3"/><path d="M50 -16 A8 16 0 0 1 50 16" stroke-width="6"/><path d="M59.4286 -16 A8 16 0 0 1 59.4286 16" stroke-width="6"/><path d="M68.8571 -16 A8 16 0 0 1 68.8571 16" stroke-width="6"/><path d="M78.2857 -16 A8 16 0 0 1 78.2857 16" stroke-width="6"/><path d="M87.7143 -16 A8 16 0 0 1 87.7143 16" stroke-width="6"/><path d="M97.1429 -16 A8 16 0 0 1 97.1429 16" stroke-width="6"/><path d="M106.571 -16 A8 16 0 0 1 106.571 16" stroke-width="6"/><ellipse cx="40" cy="0" rx="15" ry="32" fill="#fff"/><ellipse cx="27" cy="0" rx="14" ry="29" fill="#222"/><path d="M0 -27 L18 -27 A13 27 0 0 1 18 27 L0 27 Z" fill="#fff"/><ellipse cx="0" cy="0" rx="13" ry="27" fill="#fff"/></g>
<text x="153.6" y="1245.3">18</text>
<path d="M150.8 1263.3 L163.1 1250.1" stroke-width="3"/>
</g>
<!-- 30_cyl.svg -->
<g>
<path d="M1835 1215 L1872 1250"/>
<path d="M1707 1309 L1745 1317 L1868 1262" stroke-width="27"/><path d="M1707 1309 L1745 1317 L1868 1262" stroke="#fff" stroke-width="14"/>
<path d="M1701 1344 L1739 1352 L1865 1300" stroke-width="27"/><path d="M1701 1344 L1739 1352 L1865 1300" stroke="#fff" stroke-width="14"/>
<path d="M1707 1376 L1745 1384 L1862 1335" stroke-width="27"/><path d="M1707 1376 L1745 1384 L1862 1335" stroke="#fff" stroke-width="14"/>
<path d="M1707 1407 L1745 1415 L1859 1366" stroke-width="27"/><path d="M1707 1407 L1745 1415 L1859 1366" stroke="#fff" stroke-width="14"/>
<path d="M1707 1442 L1745 1450 L1857 1401" stroke-width="27"/><path d="M1707 1442 L1745 1450 L1857 1401" stroke="#fff" stroke-width="14"/>
<path d="M1742 1456 L1775 1452 L1814 1486" stroke-width="27"/><path d="M1742 1456 L1775 1452 L1814 1486" stroke="#fff" stroke-width="14"/>
<path d="M1814 1498 L1762 1516" stroke-width="4"/>
<path d="M1652 1461 L1683 1448 L1728 1456 L1733 1496 L1703 1516 L1658 1509 Z" stroke-width="4" fill="#fff"/>
<path d="M1652 1461 L1700 1470 L1728 1456" stroke-width="4"/>
<path d="M1700 1470 L1703 1516" stroke-width="4"/>
<path d="M1395 1320 L1514 1349 Q1559 1361 1599 1346 L1657 1328" stroke-width="28"/><path d="M1395 1320 L1514 1349 Q1559 1361 1599 1346 L1657 1328" stroke="#fff" stroke-width="15"/>
<path d="M1397 1360 L1515 1385 Q1560 1397 1600 1382 L1660 1363" stroke-width="28"/><path d="M1397 1360 L1515 1385 Q1560 1397 1600 1382 L1660 1363" stroke="#fff" stroke-width="15"/>
<path d="M1408 1402 L1514 1420 Q1559 1432 1599 1417 L1657 1398" stroke-width="28"/><path d="M1408 1402 L1514 1420 Q1559 1432 1599 1417 L1657 1398" stroke="#fff" stroke-width="15"/>
<path d="M1410 1443 L1511 1455 Q1556 1467 1596 1452 L1650 1429" stroke-width="28"/><path d="M1410 1443 L1511 1455 Q1556 1467 1596 1452 L1650 1429" stroke="#fff" stroke-width="15"/>
<path d="M1412 1481 L1506 1490 Q1551 1502 1591 1487 L1644 1458" stroke-width="28"/><path d="M1412 1481 L1506 1490 Q1551 1502 1591 1487 L1644 1458" stroke="#fff" stroke-width="15"/>
<path d="M1156.5 1313 L1262 1364" stroke-width="28"/><path d="M1156.5 1313 L1262 1364" stroke="#fff" stroke-width="15"/>
<path d="M1155 1346 L1290 1412" stroke-width="28"/><path d="M1155 1346 L1290 1412" stroke="#fff" stroke-width="15"/>
<path d="M1154 1379 L1287 1438" stroke-width="28"/><path d="M1154 1379 L1287 1438" stroke="#fff" stroke-width="15"/>
<path d="M1156.5 1417 L1426 1548" stroke-width="28"/><path d="M1156.5 1417 L1426 1548" stroke="#fff" stroke-width="15"/>
<path d="M1159 1454.5 L1462 1600 L1522 1624" stroke-width="28"/><path d="M1159 1454.5 L1462 1600 L1522 1624" stroke="#fff" stroke-width="15"/>
<path d="M1167.5 1490 L1462 1633 L1522 1657" stroke-width="28"/><path d="M1167.5 1490 L1462 1633 L1522 1657" stroke="#fff" stroke-width="15"/>
<path d="M1174 1525 L1460 1666 L1520 1690" stroke-width="28"/><path d="M1174 1525 L1460 1666 L1520 1690" stroke="#fff" stroke-width="15"/>
<path d="M1182 1560.6 L1457 1698 L1517 1722" stroke-width="28"/><path d="M1182 1560.6 L1457 1698 L1517 1722" stroke="#fff" stroke-width="15"/>
<path d="M1440 1549 L1513 1550" stroke-width="24"/><path d="M1440 1549 L1513 1550" stroke="#fff" stroke-width="11"/>
<path d="M1160 1302 L1218 1278"/>
<path d="M1200 1310 L1262 1340" stroke-width="4"/>
<path d="M1200 1310 L1235 1296" stroke-width="4"/>
</g>
<!-- 31_intake.svg -->
<g>
<path d="M 1217.1 1246.5 Q 1220.9 1227.6 1241.7 1226.8 Q 1260.7 1231.4 1264.5 1246.5 L 1281.5 1288.2 L 1342.1 1316.6 L 1359.2 1379.1 L 1391.4 1432.1 Q 1395.2 1462.4 1372.4 1470 Q 1353.5 1468.1 1342.1 1447.3 L 1311.8 1418.9 L 1281.5 1398 L 1255 1333.6 L 1225.5 1280.6 Z" fill="#fff"/>
<ellipse cx="1240.6" cy="1254.1" rx="11.4" ry="17" transform="rotate(-25 1240.6 1254.1)"/>
<ellipse cx="1311.1" cy="1353.3" rx="31.1" ry="46.2" transform="rotate(-22 1311.1 1353.3)"/>
<ellipse cx="1361.8" cy="1442.7" rx="10.6" ry="17.4" transform="rotate(-25 1361.8 1442.7)"/>
<ellipse cx="1361.8" cy="1442.7" rx="15.2" ry="22.7" transform="rotate(-25 1361.8 1442.7)" stroke-width="4"/>
<path d="M1264.5 1246.5 C1267.9 1252.6 1275.1 1268.1 1281.5 1276.8 C1287.9 1285.5 1289.1 1290.1 1296.7 1290.1 C1304.3 1290.1 1314.9 1279.5 1319.4 1276.8"/>
<path d="M1319.4 1276.8 L1334.5 1261.7"/>
<path d="M1342.1 1316.6 L1391.4 1310.9 L1395.2 1345" stroke-width="4"/>
<path d="M1359.2 1379.1 L1372.4 1401.8" stroke-width="4"/>
<path d="M1391.4 1432.1 L1406.5 1447.3 L1402.7 1462.4" stroke-width="4"/>
</g>
<!-- 32_head.svg -->
<g>
<path d="M 1227.1 1172.9 L 1264.6 1137.5 L 1325 1145.8 L 1477.1 1077.1 L 1470.8 1060.4 L 1491.7 1045.8 L 1516.7 1043.8 L 1537.5 1025 L 1556.2 1020.8 L 1577.1 1025.8 L 1841.7 1183.3 L 1847.9 1200 L 1841.7 1225 L 1558.3 1330 L 1500 1324.2 L 1235.4 1195.8 Z" stroke-width="0" fill="#fff"/>
<path d="M1227.1 1172.9 C1230.0 1168.3 1234.6 1157.5 1241.7 1150 C1248.8 1142.5 1255.4 1137.5 1262.5 1135.4 C1269.6 1133.3 1274.2 1138.8 1277.1 1139.6"/>
<path d="M1325 1145.8 L1477.1 1077.1"/>
<path d="M1477.1 1077.1 C1475.4 1075.0 1469.6 1070.9 1468.8 1066.7 C1468.0 1062.5 1468.3 1060.4 1472.9 1056.2 C1477.5 1052.0 1482.9 1048.3 1491.7 1045.8 C1500.5 1043.3 1511.7 1044.2 1516.7 1043.8"/>
<path d="M1516.7 1043.8 C1520.9 1040.0 1529.6 1029.6 1537.5 1025 C1545.4 1020.4 1548.3 1020.6 1556.2 1020.8 C1564.1 1021.0 1572.9 1024.8 1577.1 1025.8"/>
<path d="M1577.1 1025.8 L1841.7 1183.3"/>
<path d="M1841.7 1183.3 C1843.7 1187.8 1850.3 1191.1 1849.2 1200 C1848.1 1208.9 1840.6 1212.2 1837.5 1216.7"/>
<path d="M1837.5 1216.7 L1562.5 1313.3"/>
<path d="M1562.5 1313.3 C1554.7 1314.8 1548.8 1320.1 1533.3 1318.8 C1517.8 1317.5 1512.0 1311.1 1504.2 1308.3"/>
<path d="M1504.2 1308.3 L1233.3 1184.2"/>
<path d="M1227.1 1172.9 L1233.3 1184.2"/>
<path d="M1233.3 1185.4 L1235.4 1195.8 L1500 1324.2"/>
<path d="M1500 1324.2 C1507.8 1326.6 1513.7 1331.8 1529.2 1333.3 C1544.7 1334.8 1550.5 1330.9 1558.3 1330"/>
<path d="M1558.3 1330 L1841.7 1225 L1847.9 1202.1"/>
<path d="M1268.8 1164.6 C1272.2 1161.4 1271.2 1153.0 1283.3 1150.8 C1295.4 1148.6 1312.0 1154.0 1320.8 1155" stroke-width="4"/>
<path d="M1320.8 1155 L1533.3 1062.5" stroke-width="4"/>
<path d="M1575 1045.8 L1825 1189.6" stroke-width="4"/>
<path d="M1820.8 1204.2 L1566.7 1300" stroke-width="4"/>
<path d="M1491.7 1293.8 L1270.8 1183.3" stroke-width="4"/>
<path d="M1345.8 1179.2 C1344.7 1177.0 1340.6 1175.8 1341.7 1170.8 C1342.8 1165.8 1347.8 1163.2 1350 1160.4"/>
<path d="M1350 1160.4 L1537.5 1074.2"/>
<path d="M1537.5 1074.2 L1577.1 1075"/>
<path d="M1537.5 1074.2 L1539.6 1120.8" stroke-width="4"/>
<path d="M1577.1 1075 L1581.2 1108.3" stroke-width="4"/>
<path d="M1672.9 1125 L1737.5 1185.4" stroke-width="4"/>
<path d="M1737.5 1185.4 C1739.2 1189.3 1746.0 1193.9 1743.8 1200 C1741.6 1206.1 1733.1 1206.1 1729.2 1208.3"/>
<path d="M1729.2 1208.3 L1575 1270.8"/>
<path d="M1575 1270.8 C1567.2 1272.5 1560.3 1277.6 1545.8 1277.1 C1531.3 1276.6 1527.5 1271.0 1520.8 1268.8"/>
<path d="M1520.8 1268.8 L1345.8 1179.2"/>
<path d="M1370.8 1195.8 L1433.3 1227.1" stroke-width="4"/>
<path d="M1677.1 1216.7 L1737.5 1189.6" stroke-width="4"/>
<path d="M1683.3 1158.3 C1687.2 1155.4 1691.2 1147.7 1700 1145.8 C1708.8 1143.9 1714.0 1145.1 1720.8 1150 C1727.6 1154.9 1727.2 1162.8 1729.2 1166.7" stroke-width="4"/>
<ellipse cx="1300" cy="1167.5" rx="15" ry="7.5" transform="rotate(-5 1300 1167.5)"/>
<ellipse cx="1552.1" cy="1052.1" rx="15.8" ry="7.9" transform="rotate(-3 1552.1 1052.1)"/>
<ellipse cx="1772.9" cy="1181.2" rx="16.7" ry="8.3" transform="rotate(5 1772.9 1181.2)"/>
<ellipse cx="1529.2" cy="1287.5" rx="16.7" ry="8.3" transform="rotate(-3 1529.2 1287.5)"/>
<path d="M 1416.7 1170.8 L 1416.7 1216.7 Q 1437.5 1227.1 1460.4 1216.7 L 1460.4 1170.8 Z" fill="#fff"/>
<ellipse cx="1438.3" cy="1168.8" rx="21.7" ry="10" fill="#222"/>
<path d="M1400 1204.2 C1401.7 1206.7 1401.6 1210.9 1408.3 1216.7 C1415.0 1222.5 1421.6 1230.0 1433.3 1233.3 C1445.0 1236.6 1460.0 1233.3 1466.7 1233.3" stroke-width="4"/>
<path d="M 1610.4 1216.7 L 1610.4 1104.2 Q 1610.4 1089.6 1625 1087.5 L 1652.1 1104.2 Q 1668.8 1110.4 1668.8 1127.1 L 1672.9 1220.8 Z" fill="#fff"/>
<path d="M1665.4 1113.3 L1668.8 1218.8" stroke-width="3.5"/>
<path d="M1660.8 1110 L1664.2 1218.8" stroke-width="3.5"/>
<path d="M1656.2 1106.7 L1659.6 1218.8" stroke-width="3.5"/>
<path d="M1651.7 1103.3 L1655 1218.8" stroke-width="3.5"/>
<path d="M1647.1 1100 L1650.4 1218.8" stroke-width="3.5"/>
<ellipse cx="1626.2" cy="1118.8" rx="6.7" ry="10.8" stroke-width="4"/>
<path d="M 1564.6 1235.4 L 1564.6 1127.1 Q 1564.6 1112.5 1579.2 1110.4 L 1600 1127.1 Q 1616.7 1133.3 1616.7 1150 L 1620.8 1239.6 Z" fill="#fff"/>
<path d="M1613.3 1136.2 L1616.7 1237.5" stroke-width="3.5"/>
<path d="M1608.8 1132.9 L1612.1 1237.5" stroke-width="3.5"/>
<path d="M1604.2 1129.6 L1607.5 1237.5" stroke-width="3.5"/>
<path d="M1599.6 1126.2 L1602.9 1237.5" stroke-width="3.5"/>
<path d="M1595 1122.9 L1598.3 1237.5" stroke-width="3.5"/>
<ellipse cx="1580.4" cy="1141.7" rx="6.7" ry="10.8" stroke-width="4"/>
<path d="M 1522.9 1250 L 1522.9 1145.8 Q 1522.9 1131.2 1537.5 1129.2 L 1558.3 1145.8 Q 1575 1152.1 1575 1168.8 L 1579.2 1254.2 Z" fill="#fff"/>
<path d="M1571.7 1155 L1575 1252.1" stroke-width="3.5"/>
<path d="M1567.1 1151.7 L1570.4 1252.1" stroke-width="3.5"/>
<path d="M1562.5 1148.3 L1565.8 1252.1" stroke-width="3.5"/>
<path d="M1557.9 1145 L1561.2 1252.1" stroke-width="3.5"/>
<path d="M1553.3 1141.7 L1556.7 1252.1" stroke-width="3.5"/>
<ellipse cx="1538.8" cy="1160.4" rx="6.7" ry="10.8" stroke-width="4"/>
<path d="M 1475.8 1264.6 L 1475.8 1170.8 Q 1475.8 1156.2 1490.4 1154.2 L 1512.5 1170.8 Q 1529.2 1177.1 1529.2 1193.8 L 1533.3 1268.8 Z" fill="#fff"/>
<path d="M1525.8 1180 L1529.2 1266.7" stroke-width="3.5"/>
<path d="M1521.2 1176.7 L1524.6 1266.7" stroke-width="3.5"/>
<path d="M1516.7 1173.3 L1520 1266.7" stroke-width="3.5"/>
<path d="M1512.1 1170 L1515.4 1266.7" stroke-width="3.5"/>
<path d="M1507.5 1166.7 L1510.8 1266.7" stroke-width="3.5"/>
<ellipse cx="1491.7" cy="1185.4" rx="6.7" ry="10.8" stroke-width="4"/>
</g>
<!-- 40_upperL.svg -->
<g>
<path d="M939.5 1719.1 L1219.8 1602.9" stroke-width="4"/>
<path d="M1219.8 1602.9 L1229.9 1605.5 L1228.9 1686.3" stroke-width="4"/>
<path d="M782.9 1762 C784.7 1754.9 782.8 1742.9 790.5 1731.7 C798.2 1720.5 799.3 1722.8 815.8 1714 C832.3 1705.2 850.6 1698.5 861.2 1693.8"/>
<path d="M861.2 1693.8 C870.3 1697.8 891.0 1708.9 906.7 1714 C922.4 1719.1 932.9 1718.1 939.5 1719.1"/>
<path d="M939.5 1719.1 L1144 1692.3"/>
<path d="M1144 1692.3 L1169.3 1706.5 L1467.3 1789.8"/>
<path d="M1467.3 1789.8 C1467.9 1792.7 1474.5 1797.1 1469.8 1802.4 C1465.1 1807.7 1460.7 1810.1 1447.1 1812.5 C1433.5 1814.9 1420.0 1812.5 1411.7 1812.5"/>
<path d="M886.5 1759.5 L1144 1711.5 L1411.7 1812.5"/>
<path d="M848.6 1746.9 C852.1 1748.9 858.7 1754.5 866.3 1757 C873.9 1759.5 882.5 1759.0 886.5 1759.5" stroke-width="4"/>
<path d="M891.5 1772.1 L1063.2 1734.2" stroke-width="4"/>
<path d="M876.4 1782.2 C883.5 1784.4 896.6 1791.8 911.7 1793.3 C926.8 1794.8 944.0 1790.5 952.1 1789.8"/>
<path d="M952.1 1789.8 L1184.4 1742.8"/>
<path d="M1184.4 1742.8 L1197.1 1762" stroke-width="4"/>
<path d="M957.2 1802.4 L1194.5 1756" stroke-width="4"/>
<path d="M962.2 1772.1 L1068.3 1731.7" stroke-width="4"/>
<path d="M962.2 1782.2 L962.2 1797.4" stroke-width="4"/>
<path d="M782.9 1762 C782.9 1766.7 779.4 1773.9 782.9 1782.2 C786.4 1790.5 787.5 1792.1 798.1 1797.4 C808.7 1802.7 821.3 1803.2 828.4 1804.9"/>
<path d="M828.4 1804.9 C827.8 1798.4 824.7 1789.6 825.9 1777.2 C827.1 1764.8 826.9 1760.2 833.4 1751.9 C839.9 1743.6 844.2 1742.4 853.6 1741.8 C863.0 1741.2 867.5 1742.3 873.8 1749.4 C880.1 1756.5 880.8 1761.5 880.4 1772.1 C880.0 1782.7 879.7 1786.5 872.3 1794.8 C864.9 1803.1 854.1 1804.5 848.6 1807.5"/>
<ellipse cx="853.6" cy="1771.1" rx="14.1" ry="19.2" transform="rotate(20 853.6 1771.1)"/>
<path d="M800.6 1797.4 L803.1 1807.5 L828.4 1812.5" stroke-width="4"/>
<path d="M828.4 1804.9 L828.4 1865.6"/>
<path d="M873.8 1802.4 L876.4 1885.8"/>
<path d="M947.1 1789.8 L947.1 1890.8"/>
<path d="M843.5 1822.6 C846.5 1823.8 853.5 1821.8 856.2 1827.7 C858.9 1833.6 855.4 1843.2 855.2 1847.9" stroke-width="4"/>
<path d="M825.9 1865.6 C837.0 1870.1 858.2 1882.8 881.4 1888.3 C904.6 1893.8 919.8 1897.1 942 1893.3 C964.2 1889.5 982.4 1873.9 992.5 1869.1"/>
<path d="M823.3 1878.2 C834.9 1883.2 856.6 1897.3 881.4 1903.4 C906.2 1909.5 923.9 1912.9 947.1 1908.5 C970.3 1904.1 987.5 1886.7 997.6 1881.2"/>
<path d="M825.9 1865.6 L823.3 1878.2"/>
<path d="M 997.6 1853.9 L 1027.9 1832.7 L 1068.3 1824.6 L 1103.6 1833.7 L 1111.2 1847.9 L 1093.5 1863 L 1063.2 1895.9 L 1022.8 1895.9 L 1001.6 1878.2 Z" stroke-width="0" fill="#fff"/>
<path d="M997.6 1853.9 C1003.7 1849.7 1013.8 1838.6 1027.9 1832.7 C1042.0 1826.8 1053.2 1824.4 1068.3 1824.6 C1083.4 1824.8 1096.5 1831.9 1103.6 1833.7"/>
<path d="M997.6 1853.9 C998.4 1858.8 996.6 1869.8 1001.6 1878.2 C1006.6 1886.6 1010.5 1892.4 1022.8 1895.9 C1035.1 1899.4 1043.0 1901.3 1063.2 1895.9 C1083.4 1890.5 1099.6 1876.7 1123.8 1869.1 C1148.0 1861.5 1160.1 1857.0 1184.4 1858 C1208.7 1859.0 1233.0 1870.9 1245.1 1874.1"/>
<path d="M1000.1 1863 C1004.6 1865.5 1010.2 1873.2 1022.8 1875.7 C1035.4 1878.2 1043.0 1880.8 1063.2 1875.7 C1083.4 1870.6 1099.6 1857.5 1123.8 1850.4 C1148.0 1843.3 1161.7 1838.8 1184.4 1840.3 C1207.1 1841.8 1226.9 1854.5 1237.5 1858" stroke-width="4"/>
<ellipse cx="1043" cy="1850.9" rx="18.2" ry="9.1" transform="rotate(-5 1043 1850.9)"/>
<ellipse cx="1086" cy="1835.8" rx="13.1" ry="6.6" transform="rotate(-5 1086 1835.8)" stroke-width="4"/>
<path d="M1083.4 1787.3 L1083.4 1812.5" stroke-width="4"/>
<path d="M1083.4 1812.5 C1087.4 1813.0 1091.5 1818.1 1103.6 1815.1 C1115.7 1812.1 1125.8 1804.0 1144 1797.4 C1162.2 1790.8 1184.4 1785.2 1194.5 1782.2" stroke-width="4"/>
<path d="M1197.1 1762 L1212.2 1797.4 L1255.2 1822.6" stroke-width="4"/>
<path d="M1214.7 1762 L1217.3 1797.4" stroke-width="4"/>
<path d="M1255.2 1777.2 L1255.2 1873.1"/>
<path d="M1310.7 1777.2 L1313.2 1875.7"/>
<path d="M1255.2 1873.1 C1261.7 1875.5 1269.4 1882.6 1282.9 1883.2 C1296.4 1883.8 1306.1 1877.5 1313.2 1875.7" stroke-width="4"/>
<path d="M1237.5 1873.1 C1238.0 1877.1 1233.4 1886.0 1240 1893.3 C1246.6 1900.6 1255.1 1905.5 1270.3 1909.5 C1285.5 1913.5 1306.7 1912.7 1315.8 1913.5"/>
<path d="M1315.8 1913.5 L1396.6 1943.8"/>
<path d="M1315.8 1883.2 L1394 1923.6" stroke-width="4"/>
<path d="M1320.8 1842.8 L1396.6 1883.2" stroke-width="4"/>
<path d="M1396.6 1943.8 C1400.1 1947.6 1395.2 1957.4 1411.7 1960 C1428.2 1962.6 1450.8 1960.8 1467.3 1954.9 C1483.8 1949.0 1478.9 1939.4 1482.4 1934.7"/>
<path d="M1396.6 1858 L1396.6 1943.8"/>
<path d="M1482.4 1858 L1482.4 1936.3"/>
<ellipse cx="1439.5" cy="1853.9" rx="42.9" ry="15.2"/>
<path d="M1416.8 1822.6 C1421.5 1820.8 1427.6 1815.1 1437 1815.1 C1446.4 1815.1 1452.5 1820.8 1457.2 1822.6" stroke-width="4"/>
<path d="M 1197.1 1673.6 L 1224.8 1658.5 L 1245.1 1648.4 L 1270.3 1635.8 L 1280.4 1661 L 1282.9 1706.5 L 1265.3 1711.5 L 1245.1 1686.3 L 1217.3 1696.4 Z" stroke-width="0" fill="#fff"/>
<ellipse cx="1207.2" cy="1683.7" rx="10.1" ry="13.1" transform="rotate(-20 1207.2 1683.7)" stroke-width="7"/>
<path d="M1209.7 1671.1 C1213.2 1668.2 1218.3 1660.9 1224.8 1658.5 C1231.3 1656.1 1234.5 1660.4 1237.5 1661"/>
<path d="M1217.3 1696.4 C1221.4 1694.0 1228.4 1691.0 1234.9 1686.3 C1241.4 1681.6 1242.7 1678.6 1245.1 1676.2"/>
<path d="M1232.4 1656 C1234.8 1658.9 1240.7 1662.1 1242.5 1668.6 C1244.3 1675.1 1240.6 1680.2 1240 1683.7" stroke-width="4"/>
<path d="M1245.1 1648.4 C1247.5 1651.3 1253.5 1653.3 1255.2 1661 C1257.0 1668.7 1253.2 1676.5 1252.6 1681.2" stroke-width="4"/>
<path d="M1240 1635.8 C1244.7 1634.6 1251.4 1628.3 1260.2 1630.7 C1269.0 1633.1 1272.0 1635.3 1277.9 1645.9 C1283.8 1656.5 1284.3 1662.1 1285.5 1676.2 C1286.7 1690.3 1283.5 1699.4 1282.9 1706.5"/>
<path d="M1255.2 1643.3 C1258.7 1647.4 1266.2 1649.8 1270.3 1661 C1274.4 1672.2 1272.8 1679.5 1272.8 1691.3 C1272.8 1703.1 1270.9 1706.8 1270.3 1711.5" stroke-width="4"/>
<path d="M1282.9 1706.5 L1267.8 1711.5" stroke-width="4"/>
<path d="M 1338.5 1726.7 L 1381.4 1716.6 L 1442 1741.8 L 1396.6 1772.1 L 1353.6 1769.6 Z" stroke-width="0" fill="#fff"/>
<ellipse cx="1363.7" cy="1744.3" rx="22.7" ry="27.8" transform="rotate(-20 1363.7 1744.3)" fill="#fff"/>
<ellipse cx="1362.2" cy="1745.9" rx="11.1" ry="16.2" transform="rotate(-20 1362.2 1745.9)" stroke-width="7"/>
<path d="M1358.7 1717.6 L1442 1744.3" stroke-width="4"/>
<path d="M1378.9 1769.6 L1411.7 1762 L1442 1744.3" stroke-width="4"/>
<path d="M1295.6 1605.5 L1295.6 1661 L1330.9 1681.2 L1330.9 1726.7" stroke-width="4"/>
<path d="M1320.8 1648.4 L1391.5 1681.2" stroke-width="4"/>
<path d="M1265.3 1716.6 C1267.7 1720.1 1266.0 1727.6 1275.4 1731.7 C1284.8 1735.8 1292.8 1735.4 1305.7 1734.2 C1318.7 1733.0 1325.0 1728.5 1330.9 1726.7" stroke-width="4"/>
<path d="M1282.9 1835.3 L1282.9 1975.2" stroke-width="4"/>
<path d="M1282.9 1975.2 L1139 2037.3" stroke-width="4" stroke-dasharray="60 12 10 12"/>
<path d="M1139 2037.3 L1139 2080.2" stroke-width="4"/>
<path d="M 1116.3 2156 L 1117.8 2110.5 Q 1123.8 2090.3 1139 2092.8 L 1159.2 2108 L 1159.2 2158.5 Q 1139 2171.1 1116.3 2156 Z" fill="#fff"/>
<path d="M1116.3 2156 C1121.6 2157.8 1129.0 2162.9 1139 2163.5 C1149.0 2164.1 1154.5 2159.7 1159.2 2158.5" stroke-width="8"/>
<path d="M1123.8 2140.8 C1126.8 2137.8 1134.4 2131.8 1139 2125.7 C1143.6 2119.6 1145.1 2113.5 1146.6 2110.5" stroke-width="4"/>
<text x="1202.1" y="2145.9">8</text>
<path d="M1161.7 2130.7 L1197.1 2130.7" stroke-width="3"/>
<path d="M1043 1852.9 L1030.9 2132.7" stroke-dasharray="90 14 12 14"/>
</g>
<!-- 41_upperR.svg -->
<g>
<path d="M1784.5 1599.3 L2080.6 1480" stroke-dasharray="80 18 16 18"/>
<path d="M1634.2 1745.2 L1775.6 1683.3 L1978.9 1599.3 L2100 1656.8" stroke-dasharray="80 18 16 18"/>
<path d="M1658.5 1524.2 L1735.9 1568.4" stroke-dasharray="30 16"/>
<path d="M1532.6 1798.2 C1533.2 1785.2 1535.8 1725.7 1537 1701 C1538.2 1676.3 1539.3 1626.5 1541.4 1612.6 C1543.5 1598.7 1551.0 1599.2 1552.5 1597.1"/>
<path d="M1552.5 1597.1 L1638.6 1541.9"/>
<path d="M1638.6 1541.9 C1638.6 1535.7 1634.0 1525.9 1638.6 1515.4 C1643.2 1504.9 1649.4 1497.8 1658.5 1496.8 C1667.6 1495.8 1672.3 1501.4 1677.5 1510.9 C1682.7 1520.4 1678.3 1530.2 1680.6 1537.4 C1682.9 1544.6 1685.7 1540.9 1687.2 1541.9"/>
<ellipse cx="1656.3" cy="1526.4" rx="12.4" ry="15.9" transform="rotate(20 1656.3 1526.4)"/>
<path d="M1687.2 1541.9 L1753.5 1508.7"/>
<path d="M1753.5 1508.7 C1756.1 1510.3 1761.5 1509.7 1764.6 1515.4 C1767.7 1521.1 1766.3 1528.9 1766.8 1533"/>
<path d="M1766.8 1533 C1767.1 1554.2 1767.8 1662.6 1769 1692.1 C1770.2 1721.6 1774.7 1745.7 1775.6 1754"/>
<path d="M1545.8 1798.2 C1546.4 1785.2 1549.4 1725.2 1550.3 1701 C1551.2 1676.8 1551.0 1629.7 1552.5 1617 C1554.0 1604.3 1560.1 1607.4 1561.3 1605.9" stroke-width="4"/>
<path d="M1561.3 1605.9 L1682.8 1552.9 L1751.3 1522" stroke-width="4"/>
<path d="M1751.3 1522 C1752.0 1537.1 1755.0 1584.2 1755.7 1612.6 C1756.4 1640.9 1756.8 1670.0 1755.7 1692.1 C1754.6 1714.2 1753.9 1726.0 1749.1 1745.2 C1744.3 1764.4 1736.6 1788.6 1727 1807 C1717.4 1825.4 1697.6 1847.5 1691.7 1855.6" stroke-width="4"/>
<path d="M1775.6 1754 C1776.6 1762.2 1782.2 1773.8 1780.1 1789.3 C1778.0 1804.8 1775.1 1811.0 1766.8 1820.3 C1758.5 1829.6 1749.9 1827.0 1744.7 1829.1"/>
<ellipse cx="1757.1" cy="1794.6" rx="11.5" ry="18.6" transform="rotate(25 1757.1 1794.6)"/>
<path d="M1576.8 1608.2 L1576.8 1762.8" stroke-width="4"/>
<path d="M1596.7 1595.8 L1598.9 1762.8" stroke-width="7"/>
<path d="M1618.8 1586.1 L1621 1754" stroke-width="7"/>
<path d="M1629.8 1581.6 L1629.8 1745.2" stroke-width="4"/>
<path d="M1665.2 1568.4 L1670.5 1656.8 L1654.1 1727.5" stroke-width="4" stroke-dasharray="40 14"/>
<path d="M1669.6 1645.7 L1753.5 1678.9" stroke-width="4"/>
<ellipse cx="1573.2" cy="1732.8" rx="19.4" ry="20.3" stroke-width="4"/>
<ellipse cx="1573.2" cy="1732.8" rx="10.6" ry="12.4" stroke-width="6"/>
<path d="M1545.8 1784.9 C1553.0 1782.3 1561.3 1774.9 1576.8 1773.9 C1592.3 1772.9 1599.7 1774.8 1612.1 1780.5 C1624.5 1786.2 1625.7 1794.1 1629.8 1798.2" stroke-width="4"/>
<path d="M1554.7 1762.8 C1557.8 1763.8 1562.7 1767.2 1567.9 1767.2 C1573.1 1767.2 1574.7 1763.8 1576.8 1762.8" stroke-width="4"/>
<path d="M1769 1568.4 C1772.0 1570.2 1780.1 1570.3 1780.1 1575 C1780.1 1579.7 1772.0 1583.1 1769 1586.1"/>
<path d="M1769 1608.2 C1772.0 1610.0 1780.1 1610.1 1780.1 1614.8 C1780.1 1619.5 1772.0 1622.9 1769 1625.8"/>
<path d="M1769 1647.9 C1772.0 1649.7 1780.1 1649.9 1780.1 1654.6 C1780.1 1659.3 1772.0 1662.7 1769 1665.6"/>
<path d="M1769 1687.7 C1772.0 1689.5 1780.1 1689.6 1780.1 1694.3 C1780.1 1699.0 1772.0 1702.4 1769 1705.4"/>
<path d="M1784.5 1599.3 L1799.9 1603.7" stroke-width="4"/>
<path d="M 1495 1798.2 L 1605.5 1864.5 L 1594.4 1921.9 L 1594.4 2067.8 L 1576.8 2074.4 L 1517.1 2032.4 L 1519.3 1988.2 L 1484 1939.6 Z" stroke-width="0" fill="#fff"/>
<path d="M1495 1798.2 C1493.9 1810.0 1490.2 1845.3 1488.4 1868.9 C1486.6 1892.5 1484.7 1927.8 1484 1939.6"/>
<path d="M1484 1939.6 L1519.3 1988.2 L1517.1 2032.4 L1576.8 2074.4 L1594.4 2067.8"/>
<path d="M1506.1 1807 C1509.6 1821.1 1509.6 1854.7 1523.7 1877.7 C1537.8 1900.7 1564.9 1913.1 1576.8 1921.9 C1588.7 1930.7 1582.1 1921.9 1583.4 1921.9" stroke-width="4"/>
<path d="M1583.4 1921.9 L1576.8 2074.4" stroke-width="4"/>
<path d="M1594.4 1921.9 L1594.4 2067.8"/>
<path d="M1495 1798.2 C1503.5 1802.6 1532.2 1816.6 1545.8 1824.7 C1559.4 1832.8 1566.8 1840.2 1576.8 1846.8 C1586.8 1853.4 1600.7 1861.5 1605.5 1864.5"/>
<path d="M 1596.7 1877.7 L 1607.7 1860.1 L 1629.8 1855.6 L 1645.3 1868.9 L 1643.1 1899.8 L 1621 1917.5 L 1603.3 1913.1 Z" stroke-width="0" fill="#fff"/>
<path d="M1594.4 1921.9 C1594.9 1911.6 1593.6 1892.1 1596.7 1877.7 C1599.8 1863.3 1600.0 1865.3 1607.7 1860.1 C1615.4 1854.9 1621.0 1853.5 1629.8 1855.6 C1638.6 1857.7 1642.2 1858.6 1645.3 1868.9 C1648.4 1879.2 1648.8 1888.5 1643.1 1899.8 C1637.4 1911.1 1626.2 1913.4 1621 1917.5"/>
<ellipse cx="1621" cy="1884.4" rx="13.3" ry="20.3" transform="rotate(25 1621 1884.4)"/>
<path d="M1563.5 1846.8 C1566.6 1842.7 1568.5 1834.3 1576.8 1829.1 C1585.1 1823.9 1590.7 1827.8 1598.9 1824.7 C1607.1 1821.6 1609.0 1818.0 1612.1 1815.9" stroke-width="4"/>
<path d="M1559.1 1833.5 C1561.2 1830.4 1561.7 1824.4 1567.9 1820.3 C1574.1 1816.2 1581.5 1816.9 1585.6 1815.9" stroke-width="4"/>
<path d="M1612.1 1807 L1691.7 1842.4" stroke-width="4"/>
<path d="M1629.8 1798.2 L1709.3 1833.5" stroke-width="4"/>
<path d="M1576.8 1846.8 C1578.9 1844.7 1579.4 1841.1 1585.6 1838 C1591.8 1834.9 1595.0 1831.4 1603.3 1833.5 C1611.6 1835.6 1616.9 1843.7 1621 1846.8" stroke-width="4"/>
<path d="M1640.8 1959.5 C1646.5 1949.7 1649.2 1933.0 1665.2 1917.5 C1681.2 1902.0 1690.8 1896.3 1709.3 1893.2 C1727.8 1890.1 1733.2 1896.3 1744.7 1904.2 C1756.2 1912.1 1755.5 1921.8 1758.8 1927.2"/>
<path d="M1647.5 1979.4 C1652.7 1967.5 1655.2 1946.0 1669.6 1928.5 C1684.0 1911.0 1693.8 1908.0 1709.3 1904.2 C1724.8 1900.4 1729.7 1910.3 1735.9 1912.2" stroke-width="4"/>
<path d="M1691.7 1906.5 L1695.2 1926.3" stroke-width="4"/>
<path d="M1701.4 1907.8 L1705.8 1928.1" stroke-width="4"/>
<path d="M1711.1 1909.1 L1716.4 1929.9" stroke-width="4"/>
<path d="M1720.8 1910.4 L1727 1931.6" stroke-width="4"/>
<path d="M1730.6 1911.8 L1737.6 1933.4" stroke-width="4"/>
<path d="M1594.4 2001.5 L1638.6 1979.4 L1643.1 1961.7" stroke-width="4"/>
<path d="M1607.7 1974.9 L1629.8 1966.1" stroke-width="4"/>
<path d="M1607.7 1926.3 L1612.1 1974.9" stroke-width="4"/>
<path d="M1758.8 1927.2 C1761.7 1928.0 1762.1 1933.1 1771.2 1930.8 C1780.3 1928.5 1789.4 1923.7 1797.7 1917.5 C1806.0 1911.3 1804.5 1907.3 1806.6 1904.2" stroke-width="4"/>
<ellipse cx="1760.2" cy="1858.3" rx="17.7" ry="9.7" transform="rotate(-5 1760.2 1858.3)"/>
<ellipse cx="1788.9" cy="1833.5" rx="12.4" ry="6.6" transform="rotate(-5 1788.9 1833.5)" stroke-width="4"/>
<path d="M1740.3 1855.6 C1740.8 1860.8 1736.3 1870.5 1742.5 1877.7 C1748.7 1884.9 1756.0 1886.6 1766.8 1886.6 C1777.6 1886.6 1781.2 1883.9 1788.9 1877.7 C1796.6 1871.5 1797.3 1864.2 1799.9 1860.1" stroke-width="4"/>
<path d="M1709.3 1833.5 C1713.4 1836.6 1719.8 1841.6 1727 1846.8 C1734.2 1852.0 1737.2 1853.5 1740.3 1855.6" stroke-width="4"/>
<path d="M1799.9 1824.7 L1861.8 1842.4 L1863.1 1868.9" stroke-width="4"/>
<path d="M1799.9 1860.1 L1811 1877.7 L1861.8 1866.7" stroke-width="4"/>
<path d="M1806.6 1904.2 L1879.5 1879.9" stroke-width="4"/>
<path d="M 1859.6 1745.2 L 1872.9 1714.2 L 1894.9 1705.4 L 1948 1731.9 L 1954.6 1754 L 1956.8 1904.2 L 1941.4 1921.9 L 1899.4 1899.8 L 1899.4 1886.6 L 1879.5 1877.7 L 1877.3 1868.9 L 1864 1864.5 L 1861.8 1789.3 Z" stroke-width="0" fill="#fff"/>
<path d="M1859.6 1745.2 C1862.7 1738.0 1864.7 1723.5 1872.9 1714.2 C1881.1 1704.9 1889.8 1707.5 1894.9 1705.4"/>
<path d="M1894.9 1705.4 L1945.8 1729.7"/>
<path d="M1945.8 1729.7 C1947.9 1732.3 1952.2 1733.0 1954.6 1740.7 C1957.0 1748.4 1955.6 1757.6 1955.9 1762.8"/>
<path d="M1955.9 1762.8 L1957.7 1904.2 L1941.4 1921.9 L1899.4 1899.8 L1899.4 1886.6 L1879.5 1877.7 L1877.3 1868.9 L1864 1864.5"/>
<path d="M1936.9 1784.9 L1941.4 1921.9" stroke-width="4"/>
<ellipse cx="1925" cy="1754.9" rx="23" ry="31.8" transform="rotate(20 1925 1754.9)" fill="#fff"/>
<ellipse cx="1925" cy="1754.9" rx="13.3" ry="20.3" transform="rotate(20 1925 1754.9)"/>
<path d="M1775.6 1709.8 L1903.8 1784.9"/>
<path d="M1780.1 1698.8 L1864 1720.8" stroke-width="4"/>
<path d="M1859.6 1745.2 L1864 1720.8" stroke-width="4"/>
</g>
<!-- 50_right.svg -->
<g>
<path d="M2059.8 1488.6 L2211.3 1425.5" stroke-dasharray="70 16 14 16"/>
<path d="M2211.3 1425.5 L2246.7 1448.2" stroke-width="4"/>
<path d="M2282 1465.9 L2367.9 1506.3" stroke-width="4" stroke-dasharray="40 16"/>
<path d="M2080 1642.6 L2145.7 1683" stroke-width="4"/>
<path d="M2176 1698.2 L2256.8 1738.6" stroke-width="4" stroke-dasharray="56 14 12 14"/>
<path d="M2532 1594.6 L2585.1 1622.4" stroke-width="4"/>
<path d="M2539.6 1809.3 L2686.1 1885.1" stroke-width="4" stroke-dasharray="56 14 12 14"/>
<path d="M2312.3 1907.8 L2456.3 1986.1" stroke-width="4" stroke-dasharray="56 14 12 14"/>
<path d="M2249.2 1476 C2250.5 1468.6 2245.7 1460.3 2254.2 1448.2 C2262.7 1436.1 2268.2 1431.5 2281 1430.5 C2293.8 1429.5 2295.9 1435.2 2302.2 1444.6 C2308.5 1454.0 2304.0 1460.2 2304.7 1465.9" stroke-width="6"/>
<path d="M2304.7 1465.9 L2383 1435.6" stroke-width="6"/>
<path d="M2383 1435.6 C2386.4 1436.9 2392.0 1433.9 2395.7 1440.6 C2399.4 1447.3 2396.4 1455.4 2396.7 1460.8" stroke-width="6"/>
<path d="M2396.7 1460.8 L2395.7 1506.3" stroke-width="6"/>
<path d="M2249.2 1476 C2237.8 1483.6 2195.7 1509.6 2181 1521.4 C2166.3 1533.2 2165.2 1528.2 2160.8 1546.7 C2156.4 1565.2 2156.8 1601.4 2154.7 1632.5 C2152.6 1663.6 2150.1 1705.7 2148.2 1733.5 C2146.3 1761.3 2143.9 1788.2 2143.1 1799.2" stroke-width="6"/>
<path d="M2143.1 1799.2 C2138.4 1803.9 2126.8 1807.6 2122.9 1819.4 C2119.0 1831.2 2120.6 1840.9 2126.5 1849.7 C2132.4 1858.5 2137.3 1860.2 2148.2 1857.3 C2159.1 1854.4 2158.7 1842.4 2173.4 1837.1 C2188.1 1831.8 2194.2 1842.8 2211.3 1834.5 C2228.4 1826.2 2231.4 1813.5 2246.7 1801.7 C2262.0 1789.9 2269.9 1788.1 2277 1784" stroke-width="6"/>
<path d="M2254.2 1497.2 C2243.7 1502.9 2204.1 1522.4 2191.1 1531.5 C2178.1 1540.6 2179.5 1526.5 2176 1551.7 C2172.5 1577.0 2172.0 1646.0 2169.9 1683 C2167.8 1720.0 2161.5 1753.7 2163.3 1773.9 C2165.2 1794.1 2173.0 1797.5 2181 1804.2 C2189.0 1810.9 2201.2 1817.2 2211.3 1814.3 C2221.4 1811.4 2231.1 1793.8 2241.6 1786.6 C2252.1 1779.4 2268.9 1773.9 2274.4 1771.4" stroke-width="4"/>
<path d="M2254.2 1497.2 L2367.9 1460.8" stroke-width="4"/>
<path d="M2367.9 1460.8 C2369.7 1462.0 2375.8 1456.8 2377 1466.9 C2378.2 1477.0 2374.5 1502.4 2373.9 1511.3" stroke-width="4"/>
<ellipse cx="2277" cy="1463.3" rx="10.1" ry="14.1" transform="rotate(25 2277 1463.3)"/>
<ellipse cx="2150.7" cy="1829.5" rx="11.1" ry="16.7" transform="rotate(30 2150.7 1829.5)"/>
<path d="M 2279.5 1799.2 L 2274.4 1622.4 L 2282 1597.2 L 2372.9 1556.8 L 2383 1516.4 L 2408.3 1498.7 L 2433.5 1506.3 L 2443.6 1526.5 L 2499.2 1501.2 L 2524.4 1513.8 L 2529.5 1683 L 2569.9 1713.3 L 2564.8 1728.5 L 2547.2 1799.2 L 2534.5 1819.4 L 2484 1834.5 L 2453.7 1864.8 L 2393.1 1869.9 L 2352.7 1905.3 L 2307.3 1910.3 L 2282 1925.5 L 2251.7 1915.4 L 2246.7 1885.1 L 2282 1834.5 Z" stroke-width="0" fill="#fff"/>
<path d="M2279.5 1799.2 C2278.9 1784.0 2276.8 1737.8 2276 1708.3 C2275.2 1678.8 2273.4 1640.9 2274.4 1622.4 C2275.4 1603.9 2280.7 1601.4 2282 1597.2" stroke-width="6"/>
<path d="M2282 1597.2 L2372.9 1556.8" stroke-width="6"/>
<path d="M2372.9 1556.8 C2374.1 1549.7 2373.3 1538.3 2378 1526.5 C2382.7 1514.7 2384.9 1513.1 2393.1 1506.3 C2401.3 1499.5 2403.9 1497.2 2413.3 1497.2 C2422.7 1497.2 2426.4 1499.5 2433.5 1506.3 C2440.6 1513.1 2441.2 1521.8 2443.6 1526.5" stroke-width="6"/>
<path d="M2443.6 1526.5 L2499.2 1501.2" stroke-width="6"/>
<path d="M2499.2 1501.2 C2504.6 1501.9 2512.0 1498.3 2519.4 1503.7 C2526.8 1509.1 2525.0 1516.7 2527 1521.4" stroke-width="6"/>
<path d="M2527 1521.4 L2529.5 1693.1" stroke-width="6"/>
<path d="M2292.1 1794.1 C2291.4 1779.8 2288.8 1736.1 2288.1 1708.3 C2287.4 1680.5 2287.0 1644.3 2288.1 1627.5 C2289.2 1610.7 2293.5 1610.7 2294.6 1607.3" stroke-width="4"/>
<path d="M2294.6 1607.3 L2383 1569.4" stroke-width="4"/>
<path d="M2383 1569.4 C2384.8 1560.6 2383.5 1544.5 2390.6 1531.5 C2397.7 1518.5 2408.0 1517.9 2413.3 1513.8" stroke-width="4"/>
<path d="M2448.7 1539.1 L2499.2 1516.4 L2511.8 1523.9" stroke-width="4"/>
<path d="M2451.2 1513.8 L2494.1 1497.2" stroke-width="4"/>
<ellipse cx="2419.4" cy="1534.5" rx="12.1" ry="15.2" transform="rotate(20 2419.4 1534.5)"/>
<path d="M2317.4 1768.9 C2317.8 1754.6 2319.1 1707.4 2319.9 1683 C2320.7 1658.6 2320.3 1635.0 2322.4 1622.4 C2324.5 1609.8 2330.8 1609.8 2332.5 1607.3"/>
<path d="M2332.5 1607.3 L2509.3 1536.6"/>
<path d="M2509.3 1536.6 C2511.4 1538.3 2516.0 1538.2 2518.4 1544.1 C2520.8 1550.0 2519.2 1557.7 2519.4 1561.8"/>
<path d="M2519.4 1561.8 L2520.4 1688.1"/>
<path d="M2317.4 1768.9 L2494.1 1693.1 L2498.2 1602.2" stroke-width="4"/>
<path d="M2324.9 1779 L2317.4 1768.9" stroke-width="4"/>
<path d="M2324.9 1632.5 L2506.8 1557.8" stroke-width="6"/>
<path d="M2324.9 1645.7 L2506.8 1569.9" stroke-width="3"/>
<path d="M2324.9 1658.8 L2506.8 1582" stroke-width="6"/>
<path d="M2324.9 1671.9 L2506.8 1594.1" stroke-width="3"/>
<path d="M2324.9 1685.1 L2506.8 1606.3" stroke-width="6"/>
<path d="M2324.9 1698.2 L2506.8 1618.4" stroke-width="3"/>
<path d="M 2395.7 1594.6 L 2431 1579.5 L 2428.5 1607.3 L 2413.3 1627.5 L 2400.7 1617.4 Z" stroke-width="4" fill="#fff"/>
<path d="M2509.3 1551.7 L2510.3 1683" stroke-width="4"/>
<path d="M 2287.1 1801.7 L 2335.1 1827 L 2564.8 1728.5 L 2569.9 1713.3 L 2529.5 1695.7 L 2292.1 1794.1 Z" stroke-width="0" fill="#fff"/>
<path d="M2292.1 1794.1 L2529.5 1695.7"/>
<path d="M2287.1 1801.7 L2335.1 1827 L2564.8 1728.5 L2569.9 1713.3 L2529.5 1695.7"/>
<path d="M2335.1 1816.9 L2557.3 1720.9" stroke-width="3"/>
<path d="M2537.1 1741.1 C2540.0 1739.3 2545.6 1732.9 2549.7 1733.5 C2553.8 1734.1 2553.5 1741.2 2554.7 1743.6" stroke-width="4"/>
<path d="M2279.5 1799.2 C2279.9 1805.1 2287.1 1820.6 2282 1834.5 C2276.9 1848.4 2255.5 1870.7 2249.2 1882.5 C2242.9 1894.3 2243.3 1899.0 2244.1 1905.3 C2244.9 1911.6 2247.9 1916.9 2254.2 1920.4 C2260.5 1923.9 2273.2 1928.0 2282 1926.5 C2290.8 1925.0 2295.5 1914.8 2307.3 1911.3 C2319.1 1907.8 2338.4 1912.0 2352.7 1905.3 C2367.0 1898.6 2376.3 1877.7 2393.1 1870.9 C2409.9 1864.2 2438.5 1870.7 2453.7 1864.8 C2468.8 1858.9 2473.9 1843.0 2484 1835.6 C2494.1 1828.2 2509.2 1822.9 2514.3 1820.4" stroke-width="6"/>
<path d="M2297.2 1819.4 C2298.2 1825.5 2307.3 1836.6 2302.2 1849.7 C2297.1 1862.8 2278.0 1878.0 2271.9 1885.1" stroke-width="4"/>
<path d="M2317.4 1885.1 C2323.3 1885.9 2340.9 1894.7 2352.7 1890.1 C2364.5 1885.5 2372.1 1864.0 2388.1 1857.3 C2404.1 1850.6 2433.5 1856.0 2448.7 1849.7 C2463.8 1843.4 2469.8 1831.2 2479 1819.4 C2488.2 1807.6 2500.0 1785.7 2504.2 1779" stroke-width="4"/>
<path d="M2309.8 1824.4 C2311.3 1831.5 2310.8 1847.7 2317.4 1859.8 C2324.0 1871.9 2337.6 1880.0 2342.6 1885.1" stroke-width="4"/>
<path d="M2256.8 1880 C2258.3 1885.1 2259.3 1898.2 2264.3 1905.3 C2269.3 1912.4 2278.5 1913.4 2282 1915.4" stroke-width="4"/>
<path d="M2509.3 1790.1 C2515.4 1787.1 2521.9 1777.2 2532 1779 C2542.1 1780.8 2545.8 1786.2 2547.2 1796.7 C2548.6 1807.2 2545.9 1812.1 2537.1 1818.4 C2528.3 1824.7 2520.4 1819.9 2514.3 1820.4" stroke-width="6"/>
<ellipse cx="2297.2" cy="1902.7" rx="12.1" ry="15.2" transform="rotate(15 2297.2 1902.7)"/>
<ellipse cx="2525.5" cy="1801.7" rx="12.1" ry="15.2" transform="rotate(15 2525.5 1801.7)"/>
<path d="M2524.4 1743.6 L2514.3 1779" stroke-width="4"/>
<text x="2393.1" y="1406.3">5</text>
<path d="M2375.5 1436.6 L2403.2 1410.3" stroke-width="3"/>
<text x="2527" y="1480">7</text>
<path d="M2504.2 1508.8 L2537.1 1481" stroke-width="3"/>
<text x="2680" y="1601.2">16</text>
<path d="M2668.4 1630 L2696.2 1602.2" stroke-width="3"/>
<g transform="translate(2678.5 1663.8) rotate(204) scale(0.92 0.92)" stroke-width="3.91304"><path d="M40 -16 L86 -16 A8 16 0 0 1 86 16 L40 16 Z" fill="#fff"/><ellipse cx="86" cy="0" rx="8" ry="16" fill="#fff" stroke-width="3.26087"/><path d="M50 -16 A8 16 0 0 1 50 16" stroke-width="6.52174"/><path d="M60 -16 A8 16 0 0 1 60 16" stroke-width="6.52174"/><path d="M70 -16 A8 16 0 0 1 70 16" stroke-width="6.52174"/><path d="M80 -16 A8 16 0 0 1 80 16" stroke-width="6.52174"/><ellipse cx="40" cy="0" rx="15" ry="32" fill="#fff"/><ellipse cx="27" cy="0" rx="14" ry="29" fill="#222"/><path d="M0 -27 L18 -27 A13 27 0 0 1 18 27 L0 27 Z" fill="#fff"/><ellipse cx="0" cy="0" rx="13" ry="27" fill="#fff"/></g>
<path d="M2680.5 1667.8 l12 0 M2686.5 1661.8 l0 12 M2682.5 1671.8 l8 -6" stroke-width="3"/>
<g transform="translate(2779.5 1929.5) rotate(204) scale(0.92 0.92)" stroke-width="3.91304"><path d="M40 -16 L86 -16 A8 16 0 0 1 86 16 L40 16 Z" fill="#fff"/><ellipse cx="86" cy="0" rx="8" ry="16" fill="#fff" stroke-width="3.26087"/><path d="M50 -16 A8 16 0 0 1 50 16" stroke-width="6.52174"/><path d="M60 -16 A8 16 0 0 1 60 16" stroke-width="6.52174"/><path d="M70 -16 A8 16 0 0 1 70 16" stroke-width="6.52174"/><path d="M80 -16 A8 16 0 0 1 80 16" stroke-width="6.52174"/><ellipse cx="40" cy="0" rx="15" ry="32" fill="#fff"/><ellipse cx="27" cy="0" rx="14" ry="29" fill="#222"/><path d="M0 -27 L18 -27 A13 27 0 0 1 18 27 L0 27 Z" fill="#fff"/><ellipse cx="0" cy="0" rx="13" ry="27" fill="#fff"/></g>
<path d="M2781.5 1933.5 l12 0 M2787.5 1927.5 l0 12 M2783.5 1937.5 l8 -6" stroke-width="3"/>
<g transform="translate(2549.7 2030.5) rotate(204) scale(0.92 0.92)" stroke-width="3.91304"><path d="M40 -16 L86 -16 A8 16 0 0 1 86 16 L40 16 Z" fill="#fff"/><ellipse cx="86" cy="0" rx="8" ry="16" fill="#fff" stroke-width="3.26087"/><path d="M50 -16 A8 16 0 0 1 50 16" stroke-width="6.52174"/><path d="M60 -16 A8 16 0 0 1 60 16" stroke-width="6.52174"/><path d="M70 -16 A8 16 0 0 1 70 16" stroke-width="6.52174"/><path d="M80 -16 A8 16 0 0 1 80 16" stroke-width="6.52174"/><ellipse cx="40" cy="0" rx="15" ry="32" fill="#fff"/><ellipse cx="27" cy="0" rx="14" ry="29" fill="#222"/><path d="M0 -27 L18 -27 A13 27 0 0 1 18 27 L0 27 Z" fill="#fff"/><ellipse cx="0" cy="0" rx="13" ry="27" fill="#fff"/></g>
<path d="M2551.7 2034.5 l12 0 M2557.7 2028.5 l0 12 M2553.7 2038.5 l8 -6" stroke-width="3"/>
</g>
<!-- 60_lowerL.svg -->
<g>
<path d="M1034.1 2133.3 L1014.2 2438.2" stroke-dasharray="100 16 14 16"/>
<path d="M1016.4 2500.1 L1012 2672.4" stroke-dasharray="100 16 14 16"/>
<path d="M1215.3 2380.7 L1204.2 2663.6" stroke-width="4" stroke-dasharray="100 16 14 16"/>
<path d="M799.9 2438.2 C802.1 2437.3 806.9 2431.1 813.1 2432.9 C819.4 2434.7 825.2 2444.6 837.4 2449.2 C849.6 2453.8 871.4 2459.9 886.1 2460.3 C900.8 2460.7 910.3 2456.6 925.8 2451.4 C941.3 2446.2 970.0 2433.0 978.9 2429.3"/>
<path d="M802.1 2449.2 C816.1 2453.2 864.7 2471.3 886.1 2473.5 C907.5 2475.7 913.4 2468.2 930.3 2462.5 C947.2 2456.8 978.1 2443.0 987.7 2439.1"/>
<path d="M799.9 2438.2 L802.1 2449.2"/>
<path d="M802.1 2449.2 C803.9 2457.2 811.3 2493.9 815.4 2508.9 C819.5 2523.9 825.1 2531.8 833 2561.9 C840.9 2592.0 869.4 2711.3 875 2734.3"/>
<path d="M852.9 2464.7 C853.8 2471.8 856.6 2501.8 859.5 2517.7 C862.4 2533.6 866.2 2552.2 875 2584 C883.8 2615.8 919.0 2733.4 925.8 2756.4" stroke-width="4"/>
<path d="M923.6 2473.5 C924.9 2486.8 923.7 2513.3 930.3 2539.8 C936.9 2566.3 942.7 2584.0 956.8 2606.1 C970.9 2628.2 978.9 2635.3 1001 2650.3 C1023.1 2665.3 1035.4 2674.1 1067.2 2681.2 C1099.0 2688.3 1141.5 2684.8 1160.1 2685.7" stroke-width="4"/>
<path d="M875 2734.3 L934.7 2763 L1160.1 2698.9"/>
<path d="M886.1 2606.1 L912.6 2685.7" stroke-width="4"/>
<path d="M925.8 2756.4 C934.6 2744.0 953.2 2710.4 970 2694.5 C986.8 2678.6 1001.8 2680.3 1009.8 2676.8" stroke-width="4"/>
<path d="M1009.8 2588.4 L1009.8 2676.8" stroke-width="4"/>
<ellipse cx="954.6" cy="2721" rx="9.7" ry="19.4" transform="rotate(30 954.6 2721)"/>
<path d="M974.4 2694.5 C990.3 2698.0 1016.9 2710.4 1054 2712.2 C1091.1 2714.0 1138.9 2705.1 1160.1 2703.3" stroke-width="4"/>
<path d="M903.7 2725.4 L912.6 2721" stroke-width="3"/>
<path d="M 981.1 2429.3 L 1040.7 2400.6 L 1084.9 2420.5 L 1096 2431.6 L 1089.3 2442.6 L 1054 2455.9 L 1031.9 2462.5 L 992.1 2460.3 L 970 2455.9 Z" stroke-width="0" fill="#fff"/>
<path d="M981.1 2429.3 C989.0 2425.5 1026.9 2401.8 1040.7 2400.6 C1054.5 2399.4 1077.5 2416.4 1084.9 2420.5 C1092.3 2424.6 1095.4 2428.7 1096 2431.6 C1096.6 2434.5 1094.9 2439.4 1089.3 2442.6 C1083.7 2445.8 1058.7 2454.1 1054 2455.9"/>
<path d="M970 2460.3 C974.4 2462.9 980.6 2470.9 992.1 2473.5 C1003.6 2476.1 1015.1 2476.1 1027.5 2473.5 C1039.9 2470.9 1048.7 2462.9 1054 2460.3"/>
<ellipse cx="1014.2" cy="2440.4" rx="26.5" ry="14.1" transform="rotate(-8 1014.2 2440.4)" stroke-width="4"/>
<ellipse cx="1014.2" cy="2440.4" rx="16.8" ry="8.8" transform="rotate(-8 1014.2 2440.4)"/>
<ellipse cx="1062.8" cy="2427.1" rx="12.4" ry="6.6" transform="rotate(-8 1062.8 2427.1)"/>
<path d="M1089.3 2416.1 L1138 2396.2" stroke-width="3"/>
<ellipse cx="1151.2" cy="2398.4" rx="15.5" ry="8.8" transform="rotate(-8 1151.2 2398.4)" stroke-width="4"/>
<path d="M1054 2460.3 C1063.6 2459.2 1093.0 2454.3 1111.4 2453.6 C1129.8 2452.9 1153.1 2453.3 1164.5 2455.9 C1175.9 2458.5 1177.3 2466.9 1179.9 2469.1"/>
<path d="M1179.9 2469.1 L1221.9 2473.5 L1235.2 2486.8"/>
<path d="M1062.8 2473.5 L1080.5 2526.6 L1098.2 2537.6 L1100.4 2473.5" stroke-width="4"/>
<path d="M1073.9 2535.4 L1071.7 2606.1 L1129.1 2645.9 L1133.5 2478" stroke-width="4"/>
<path d="M1142.4 2478 L1138 2641.5" stroke-width="4"/>
<path d="M1155.6 2473.5 L1153.4 2645.9" stroke-width="4"/>
<path d="M1164.5 2473.5 L1160.1 2694.5" stroke-width="7"/>
<path d="M1062.8 2469.1 L1160.1 2466.9" stroke-width="4"/>
<path d="M1191 2486.8 L1179.9 2663.6"/>
<path d="M1226.3 2486.8 L1221.9 2672.4"/>
<path d="M1235.2 2486.8 L1230.8 2712.2" stroke-width="4"/>
<path d="M1191 2486.8 C1195.1 2485.3 1200.5 2480.2 1208.7 2480.2 C1216.9 2480.2 1222.2 2485.3 1226.3 2486.8" stroke-width="4"/>
<ellipse cx="1199.8" cy="2670.2" rx="22.1" ry="11"/>
<path d="M1164.5 2690.1 C1164.9 2696.3 1159.6 2712.6 1166.7 2721 C1173.8 2729.4 1188.8 2732.1 1199.8 2732.1 C1210.8 2732.1 1217.0 2732.9 1221.9 2721 C1226.8 2709.1 1223.7 2682.1 1224.1 2672.4"/>
<path d="M 1171.1 2345.4 L 1182.1 2338.8 L 1266.1 2380.7 L 1268.3 2402.8 L 1226.3 2420.5 L 1217.5 2438.2 L 1182.1 2385.2 Z" stroke-width="0" fill="#fff"/>
<path d="M1171.1 2345.4 L1182.1 2338.8 L1266.1 2380.7 L1268.3 2402.8"/>
<path d="M1171.1 2345.4 L1175.5 2371.9 L1217.5 2438.2" stroke-width="4"/>
<path d="M1182.1 2385.2 C1183.9 2381.7 1186.6 2371.9 1191 2367.5 C1195.4 2363.1 1201.6 2364.0 1204.2 2363.1" stroke-width="4"/>
<path d="M1268.3 2402.8 L1226.3 2420.5 L1217.5 2438.2" stroke-width="4"/>
<ellipse cx="1215.3" cy="2378.5" rx="17.7" ry="8.8"/>
<path d="M1221.9 2424.9 L1244 2469.1" stroke-width="4"/>
<path d="M1244 2469.1 C1255.0 2473.5 1286.0 2489.0 1310.3 2495.6 C1334.6 2502.2 1361.5 2503.0 1389.8 2508.9 C1418.1 2514.8 1465.0 2527.3 1480 2531"/>
<path d="M 1250.6 2447.9 Q 1257.3 2441.7 1266.1 2444.8 L 1350.1 2473.5 Q 1358.9 2480.2 1350.1 2484.6 L 1259.5 2458.1 Q 1248.4 2455 1250.6 2447.9 Z" stroke-width="4"/>
<path d="M1354.5 2473.5 L1389.8 2486.8" stroke-width="4"/>
<ellipse cx="1407.5" cy="2473.5" rx="8.8" ry="6.2" stroke-width="4"/>
<ellipse cx="1411.9" cy="2497.8" rx="15.5" ry="8"/>
<ellipse cx="1476" cy="2500.1" rx="13.3" ry="7.1"/>
</g>
<!-- 61_lowerR.svg -->
<g>
<path d="M1730.9 2460.3 L1724.2 2822.7" stroke-width="4" stroke-dasharray="100 16 14 16"/>
<path d="M1649.1 2566.3 L1644.7 2822.7" stroke-width="4"/>
<path d="M1470.1 2257 L1476.8 2208.4 L1481.2 2146.5 L1494.4 2137.7 L1547.5 2164.2 L1558.5 2177.4 L1560.7 2199.5"/>
<path d="M1490 2155.4 L1529.8 2177.4 L1529.8 2204" stroke-width="4"/>
<path d="M1476.8 2208.4 L1521 2190.7" stroke-width="4"/>
<path d="M1476.8 2248.2 L1521 2226.1" stroke-width="4"/>
<ellipse cx="1545.3" cy="2212.8" rx="26.5" ry="15.5" fill="#fff"/>
<ellipse cx="1545.3" cy="2211.9" rx="15.5" ry="8.8"/>
<path d="M1529.8 2228.3 C1532.4 2230.9 1534.6 2238.8 1540.8 2239.3 C1547.0 2239.8 1552.7 2232.6 1556.3 2230.5" stroke-width="4"/>
<path d="M1569.6 2221.6 L1587.2 2270.3 L1609.3 2292.3 L1627 2296.8"/>
<path d="M1582.8 2208.4 L1591.7 2265.8" stroke-width="4"/>
<path d="M1627 2296.8 L1653.5 2310 L1856.8 2424.9 L1892.2 2438.2 L1901 2455.9"/>
<path d="M1662.4 2314.4 L1852.4 2411.7" stroke-width="3"/>
<ellipse cx="1620.4" cy="2296.8" rx="5.3" ry="4.4" stroke-width="4"/>
<ellipse cx="1859" cy="2424.9" rx="4.4" ry="5.3" stroke-width="4"/>
<path d="M1472.3 2292.3 L1565.2 2327.7 L1609.3 2358.6 L1609.3 2380.7 L1582.8 2385.2 L1569.6 2402.8"/>
<path d="M1540.8 2296.8 C1549.3 2296.1 1572.9 2289.4 1591.7 2292.3 C1610.5 2295.2 1638.8 2303.4 1653.5 2314.4 C1668.2 2325.4 1672.0 2346.8 1680.1 2358.6 C1688.2 2370.4 1699.2 2377.1 1702.1 2385.2 C1705.0 2393.3 1691.1 2398.4 1697.7 2407.2 C1704.3 2416.0 1730.1 2433.8 1741.9 2438.2 C1753.7 2442.6 1764.0 2434.5 1768.4 2433.8"/>
<path d="M 1565.2 2314.4 L 1587.2 2310 L 1644.7 2349.8 L 1649.1 2367.5 L 1618.2 2389.6 L 1604.9 2389.6 L 1618.2 2367.5 L 1609.3 2354.2 L 1574 2327.7 Z" stroke-width="4"/>
<ellipse cx="1576.2" cy="2314.4" rx="11" ry="6.2" stroke-width="4"/>
<ellipse cx="1658" cy="2394" rx="13.3" ry="7.1"/>
<ellipse cx="1649.1" cy="2424.9" rx="13.3" ry="8"/>
<ellipse cx="1684.5" cy="2449.2" rx="14.1" ry="9.7" stroke-width="7"/>
<ellipse cx="1761.8" cy="2444.8" rx="11" ry="6.6" stroke-width="4"/>
<ellipse cx="1733.1" cy="2462.5" rx="15.5" ry="8"/>
<path d="M1635.9 2402.8 L1635.9 2438.2 L1662.4 2464.7 L1697.7 2473.5" stroke-width="7"/>
<path d="M1666.8 2420.5 L1711 2442.6" stroke-width="6"/>
<path d="M1768.4 2433.8 L1821.5 2455.9 L1887.8 2438.2"/>
<path d="M1821.5 2462.5 L1874.5 2449.2" stroke-width="4"/>
<path d="M1892.2 2438.2 L1894.4 2455.9" stroke-width="4"/>
<path d="M1574 2394 C1571.3 2406.4 1569.5 2437.3 1560.7 2455.9 C1551.9 2474.5 1536.0 2480.6 1529.8 2486.8"/>
<path d="M1591.7 2424.9 C1589.9 2434.6 1591.6 2457.6 1582.8 2473.5 C1574.0 2489.4 1554.6 2498.3 1547.5 2504.5" stroke-width="4"/>
<path d="M1671.2 2486.8 C1669.4 2495.6 1669.5 2516.0 1662.4 2531 C1655.3 2546.0 1641.2 2555.7 1635.9 2561.9" stroke-width="4"/>
<path d="M1684.5 2489 C1682.7 2498.7 1683.6 2521.7 1675.6 2537.6 C1667.6 2553.5 1650.9 2562.3 1644.7 2568.5" stroke-width="4"/>
<path d="M1697.7 2491.2 C1695.9 2501.8 1697.7 2527.4 1688.9 2544.2 C1680.1 2561.0 1660.6 2569.0 1653.5 2575.2" stroke-width="4"/>
<path d="M1711 2495.6 C1709.2 2507.1 1710.9 2536.3 1702.1 2553.1 C1693.3 2569.9 1673.9 2574.3 1666.8 2579.6" stroke-width="4"/>
<path d="M1622.6 2544.2 C1625.3 2550.4 1627.1 2568.1 1635.9 2575.2 C1644.7 2582.3 1660.6 2578.7 1666.8 2579.6" stroke-width="4"/>
<path d="M1300 2495.6 C1314.7 2499.3 1364.1 2515.5 1388.4 2517.7 C1412.7 2519.9 1433.3 2512.6 1445.8 2508.9 C1458.3 2505.2 1460.5 2497.8 1463.5 2495.6"/>
<path d="M1463.5 2495.6 L1538.6 2486.8 L1582.8 2513.3 L1604.9 2517.7 L1609.3 2544.2 L1574 2561.9 L1525.4 2570.8 L1512.1 2601.7 L1565.2 2632.6"/>
<path d="M1300 2513.3 C1314.0 2516.2 1359.0 2529.5 1384 2531 C1409.0 2532.5 1430.4 2519.9 1450.3 2522.1 C1470.2 2524.3 1492.3 2537.6 1503.3 2544.2 C1514.3 2550.8 1517.2 2553.1 1516.5 2561.9 C1515.8 2570.8 1501.8 2591.4 1498.9 2597.3"/>
<path d="M1498.9 2597.3 L1565.2 2628.2" stroke-width="4"/>
<path d="M 1465.7 2496.5 Q 1472.3 2489 1485.6 2491.2 L 1565.2 2517.7 Q 1571.8 2524.4 1565.2 2528.8 L 1476.8 2508.9 Q 1463.5 2504.5 1465.7 2496.5 Z" stroke-width="4"/>
<ellipse cx="1403.9" cy="2473.5" rx="9.7" ry="7.1" stroke-width="4"/>
<ellipse cx="1410.5" cy="2500.1" rx="15.5" ry="8.8"/>
<ellipse cx="1547.5" cy="2542" rx="17.7" ry="8.8"/>
<ellipse cx="1521" cy="2522.1" rx="11" ry="6.2" stroke-width="4"/>
<path d="M1604.9 2517.7 L1618.2 2535.4" stroke-width="7"/>
<path d="M 1406.1 2796.1 L 1407.4 2840.3 Q 1428.2 2853.6 1448.9 2840.3 L 1450.3 2796.1 Z" stroke-width="0" fill="#fff"/>
<path d="M1406.1 2796.1 L1407.4 2840.3"/>
<path d="M1450.3 2796.1 L1448.9 2840.3"/>
<path d="M1407.4 2840.3 C1412.9 2843.4 1417.1 2851.8 1428.2 2851.8 C1439.3 2851.8 1443.4 2843.4 1448.9 2840.3"/>
<ellipse cx="1428.2" cy="2796.1" rx="22.1" ry="9.7" fill="#fff"/>
<ellipse cx="1428.2" cy="2796.1" rx="11.5" ry="4.9" stroke-width="4"/>
<path d="M1565.2 2632.6 L1565.2 2774 L1582.8 2782.9 L1604.9 2769.6 L1803.8 2672.4 L1865.7 2632.6 L1909.8 2606.1 L1918.7 2473.5"/>
<path d="M1741.9 2473.5 L1741.9 2645.9 L1768.4 2650.3 L1777.3 2628.2 L1786.1 2473.5" stroke-width="4"/>
<path d="M1848 2464.7 L1839.1 2579.6 L1803.8 2610.5 L1808.2 2663.6" stroke-width="4"/>
<path d="M1839.1 2579.6 L1914.3 2610.5" stroke-width="4"/>
<path d="M1901 2455.9 C1906.3 2458.5 1921.5 2456.7 1927.5 2469.1 C1933.5 2481.5 1930.4 2508.0 1931.1 2517.7"/>
<path d="M1931.1 2517.7 C1930.9 2536.1 1933.2 2599.5 1929.7 2628.2 C1926.2 2656.9 1913.1 2679.8 1909.8 2690.1"/>
<path d="M1909.8 2690.1 L1741.9 2774 L1618.2 2822.7"/>
<path d="M1865.7 2650.3 C1870.9 2646.7 1877.0 2634.8 1887.8 2634.8 C1898.6 2634.8 1906.4 2646.7 1912.1 2650.3" stroke-width="4"/>
<ellipse cx="1887.8" cy="2665.8" rx="10.6" ry="17.7" transform="rotate(25 1887.8 2665.8)"/>
</g>
<!-- 62_saddle.svg -->
<g>
<path d="M1271.5 2402 C1276.9 2394.4 1287.3 2380.5 1298.4 2364.1 C1309.5 2347.7 1318.0 2339.5 1326.8 2319.9 C1335.6 2300.3 1339.4 2277.0 1342.6 2266.3"/>
<path d="M1342.6 2266.3 C1344.7 2265.2 1349.4 2259.7 1355.2 2260 C1361.0 2260.3 1370.5 2264.8 1377.3 2267.9 C1384.1 2271.1 1391.0 2277.6 1396.2 2278.9 C1401.5 2280.2 1406.7 2276.3 1408.8 2275.8"/>
<path d="M1276.3 2421 C1283.9 2417.2 1299.0 2414.6 1314.1 2402 C1329.2 2389.4 1340.0 2376.7 1352 2357.8 C1364.0 2338.9 1368.1 2322.4 1374.1 2307.3 C1380.1 2292.2 1380.4 2287.1 1382 2282.1" stroke-width="8"/>
<path d="M1314.1 2443.1 C1322.9 2438.7 1341.2 2434.3 1358.3 2421 C1375.4 2407.7 1386.8 2395.7 1399.4 2376.8 C1412.0 2357.9 1415.8 2340.2 1421.5 2326.3 C1427.2 2312.4 1426.5 2311.1 1427.8 2307.3"/>
<path d="M1367.8 2474.6 C1376.6 2469.6 1395.6 2465.2 1412 2449.4 C1428.4 2433.6 1437.9 2419.1 1449.9 2395.7 C1461.9 2372.3 1466.3 2353.4 1472 2332.6 C1477.7 2311.8 1477.0 2299.7 1478.3 2291.5"/>
<path d="M1427.8 2307.3 L1478.3 2291.5" stroke-width="4"/>
<path d="M1382 2282.1 L1389.9 2304.2 L1427.8 2307.3" stroke-width="4"/>
<ellipse cx="1424.6" cy="2286.8" rx="15.8" ry="7.9"/>
<ellipse cx="1465.7" cy="2260" rx="11.4" ry="8.8" stroke-width="4"/>
<path d="M1478.3 2291.5 L1617.2 2364.1" stroke-width="4"/>
<path d="M1271.5 2402 L1276.3 2421" stroke-width="4"/>
<path d="M1276.3 2421 C1279.4 2424.8 1284.4 2435.5 1292 2439.9 C1299.6 2444.3 1309.7 2442.5 1314.1 2443.1" stroke-width="4"/>
</g>
<!-- 63_front.svg -->
<g>
<path d="M1234.1 2484.4 L1431.1 2595"/>
<path d="M1236 2506.4 L1425.4 2604.8" stroke-width="4"/>
<path d="M1231.1 2484.4 L1229.5 2723"/>
<path d="M1226.5 2723 L1400.8 2817.7"/>
<path d="M1224.6 2731.4 L1397 2826.1" stroke-width="4"/>
<path d="M1427.3 2598 L1419.7 2793.1"/>
<path d="M1427.3 2598 C1430.8 2596.7 1433.6 2591.4 1442.4 2592.3 C1451.2 2593.2 1457.9 2596.0 1465.2 2601.8 C1472.5 2607.6 1471.6 2613.5 1473.5 2617"/>
<path d="M1473.5 2617 L1465.2 2836.7"/>
<path d="M1434.8 2605.6 C1438.3 2605.2 1442.9 2601.0 1450 2603.7 C1457.1 2606.4 1461.7 2613.9 1465.2 2617" stroke-width="4"/>
<path d="M1478.4 2624.5 L1503 2624.5" stroke-width="4"/>
<path d="M1480.3 2624.5 L1473.5 2840.5" stroke-width="4"/>
<path d="M1503 2624.5 L1499.2 2836.7" stroke-width="4"/>
<path d="M1506.8 2598 L1503 2760.9 L1514.4 2829.1"/>
<path d="M1506.8 2598 L1559.8 2632.1"/>
<path d="M1559.8 2632.1 L1556.1 2844.2"/>
<path d="M1566.7 2634 L1564.4 2798.8" stroke-width="4"/>
<path d="M1499.2 2598 L1522 2567.7"/>
<path d="M1518.2 2601.8 L1533.3 2579.1 L1563.6 2567.7" stroke-width="4"/>
<path d="M1563.6 2567.7 L1559.8 2632.1" stroke-width="4"/>
<path d="M1465.2 2848 C1471.3 2848.9 1482.6 2855.5 1495.5 2852.6 C1508.4 2849.7 1522.7 2837.4 1529.5 2833.6"/>
<path d="M1514.4 2829.1 L1563.6 2848 L1601.5 2832.9"/>
<path d="M1465.2 2840.5 C1471.3 2841.2 1483.4 2846.9 1495.5 2844.2 C1507.6 2841.5 1519.7 2830.6 1525.8 2827.2" stroke-width="4"/>
<path d="M1601.5 2552.6 L1597.7 2760.9 L1602.3 2810.2"/>
<path d="M1607.2 2632.1 L1604.5 2901.1" stroke-width="4" stroke-dasharray="60 14"/>
<ellipse cx="1582.6" cy="2798.8" rx="9.1" ry="15.2" transform="rotate(25 1582.6 2798.8)"/>
<path d="M1569.3 2760.9 C1571.5 2763.6 1572.2 2770.5 1578.8 2772.3 C1585.4 2774.1 1593.3 2769.4 1597.7 2768.5" stroke-width="4"/>
<path d="M1605.3 2707.9 L1802.3 2623.8"/>
<path d="M1605.3 2757.1 L1802.3 2669.2" stroke-width="4"/>
<path d="M1609.1 2768.5 L1802.3 2680.6" stroke-width="4"/>
<path d="M1605.3 2810.2 L1802.3 2722.3"/>
<path d="M1601.5 2832.9 L1802.3 2742"/>
<path d="M1650.8 2495.8 L1647 2685.2" stroke-width="4"/>
<path d="M1741.7 2484.4 L1745.5 2647.3 L1768.2 2651.8 L1779.5 2632.1 L1783.3 2469.2" stroke-width="4"/>
</g>
<!-- 70_pan.svg -->
<g>
<path d="M956.8 3385.2 L1360.2 3214.8" stroke-width="4"/>
<path d="M1360.2 3214.8 C1364.8 3214.8 1375.0 3213.7 1383 3214.8 C1391.0 3215.9 1390.9 3219.4 1400 3220.5 C1409.1 3221.6 1416.5 3218.5 1428.4 3220.5 C1440.3 3222.5 1452.7 3225.0 1459.7 3230.7 C1466.7 3236.4 1457.4 3241.3 1463.6 3248.9 C1469.8 3256.5 1485.4 3264.8 1490.9 3268.8" stroke-width="4"/>
<path d="M1490.9 3268.8 L1621.6 3260.2" stroke-width="4"/>
<ellipse cx="1425.6" cy="3234.7" rx="18.2" ry="9.1" transform="rotate(-5 1425.6 3234.7)" stroke-width="4"/>
<path d="M990.9 3419.3 L1343.2 3265.9" stroke-width="4"/>
<path d="M956.8 3385.2 C952.2 3389.2 941.1 3393.0 936.9 3402.3 C932.7 3411.6 932.6 3415.5 938.6 3425 C944.6 3434.5 949.0 3439.0 962.5 3443.2 C976.0 3447.4 984.7 3446.1 996.6 3443.2 C1008.5 3440.3 1009.6 3433.6 1013.6 3430.7"/>
<ellipse cx="976.7" cy="3427.8" rx="18.2" ry="9.7" transform="rotate(-5 976.7 3427.8)"/>
<path d="M1013.6 3430.7 L1184.1 3555.7"/>
<path d="M1022.2 3422.2 L1195.5 3547.2" stroke-width="4"/>
<path d="M1008 3470.5 L1184.1 3581.2"/>
<path d="M1184.1 3555.7 C1189.4 3553.0 1193.5 3545.6 1206.8 3544.3 C1220.1 3543.0 1230.0 3544.7 1240.9 3550 C1251.8 3555.3 1253.4 3558.8 1253.4 3567 C1253.4 3575.2 1251.8 3579.6 1240.9 3585.2 C1230.0 3590.8 1219.4 3593.1 1206.8 3590.9 C1194.2 3588.7 1192.2 3583.8 1186.9 3575.6 C1181.6 3567.4 1184.8 3560.3 1184.1 3555.7"/>
<ellipse cx="1218.2" cy="3562.5" rx="18.2" ry="9.1" transform="rotate(-5 1218.2 3562.5)"/>
<path d="M1253.4 3567 L1633 3402.3 L1695.5 3373.9"/>
<path d="M1695.5 3373.9 C1697.9 3369.9 1704.1 3370.1 1705.7 3356.8 C1707.3 3343.5 1707.3 3332.9 1702.3 3317 C1697.3 3301.1 1688.3 3295.2 1684.1 3288.6"/>
<path d="M1255.1 3585.2 L1638.6 3419.3 L1698.3 3389.8"/>
<path d="M1627.3 3371 C1629.9 3366.6 1629.3 3358.2 1638.6 3352.3 C1647.9 3346.4 1654.4 3343.8 1667 3345.5 C1679.6 3347.2 1686.6 3356.4 1692.6 3359.7"/>
<ellipse cx="1661.4" cy="3362.5" rx="18.2" ry="9.7" transform="rotate(-8 1661.4 3362.5)"/>
<path d="M1093.2 3476.1 L1354.5 3351.1" stroke-width="4"/>
<path d="M1235.2 3402.3 L1354.5 3351.1" stroke-width="4"/>
<path d="M1391.5 3356.8 L1422.7 3373.9" stroke-width="4"/>
<path d="M1485.2 3294.3 C1479.0 3306.8 1461.9 3335.2 1454 3356.8 C1446.1 3378.4 1442.7 3388.7 1445.5 3402.3 C1448.3 3415.9 1452.3 3420.5 1468.2 3425 C1484.1 3429.5 1493.2 3435.2 1525 3425 C1556.8 3414.8 1606.8 3384.1 1627.3 3373.9" stroke-width="4"/>
<path d="M1519.3 3425 L1542 3442" stroke-width="4"/>
<path d="M938.6 3425 C939.5 3433.0 937.0 3443.2 942.6 3459.1 C948.2 3475.0 947.2 3481.3 962.5 3493.2 C977.8 3505.1 997.4 3506.2 1008 3510.2"/>
<path d="M1008 3470.5 L1008 3510.2"/>
<path d="M1008 3510.2 L1195.5 3623.9 L1246.6 3660.8"/>
<path d="M1246.6 3660.8 C1253.2 3663.1 1263.1 3669.2 1275 3670.5 C1286.9 3671.8 1288.4 3670.7 1297.7 3666.5 C1307.0 3662.3 1310.8 3655.6 1314.8 3652.3"/>
<path d="M1314.8 3652.3 L1633 3510.2"/>
<path d="M1633 3510.2 C1636.4 3506.8 1644.3 3512.5 1650 3493.2 C1655.7 3473.9 1659.1 3429.5 1661.4 3413.6"/>
<path d="M1184.1 3581.2 L1184.1 3612.5 L1201.1 3626.7" stroke-width="4"/>
<path d="M1246.6 3589.8 L1249.4 3658"/>
<path d="M1252.3 3612.5 L1309.1 3595.5 L1314.8 3561.4" stroke-width="4"/>
<path d="M1013.6 3481.8 L1178.4 3581.2" stroke-width="4"/>
<path d="M1019.3 3521.6 L1184.1 3618.2" stroke-width="4"/>
<path d="M1317.6 3561.4 L1317.6 3651.1" stroke-width="7"/>
<path d="M1331 3555.5 L1330.5 3645.4" stroke-width="7"/>
<path d="M1344.4 3549.5 L1343.3 3639.6" stroke-width="7"/>
<path d="M1357.8 3543.6 L1356.1 3633.9" stroke-width="7"/>
<path d="M1371.2 3537.7 L1369 3628.1" stroke-width="7"/>
<path d="M1384.7 3531.8 L1381.8 3622.4" stroke-width="7"/>
<path d="M1398.1 3525.9 L1394.7 3616.6" stroke-width="7"/>
<path d="M1411.5 3520 L1407.5 3610.9" stroke-width="7"/>
<path d="M1424.9 3514.1 L1420.3 3605.1" stroke-width="7"/>
<path d="M1438.3 3508.2 L1433.2 3599.4" stroke-width="7"/>
<path d="M1451.7 3502.3 L1446 3593.6" stroke-width="7"/>
<path d="M1465.1 3496.4 L1458.9 3587.9" stroke-width="7"/>
<path d="M1478.5 3490.5 L1471.7 3582.1" stroke-width="7"/>
<path d="M1491.9 3484.5 L1484.5 3576.4" stroke-width="7"/>
<path d="M1505.3 3478.6 L1497.4 3570.6" stroke-width="7"/>
<path d="M1518.8 3472.7 L1510.2 3564.9" stroke-width="7"/>
<path d="M1532.2 3466.8 L1523.1 3559.1" stroke-width="7"/>
<path d="M1545.6 3460.9 L1535.9 3553.4" stroke-width="7"/>
<path d="M1559 3455 L1548.8 3547.6" stroke-width="7"/>
<path d="M1572.4 3449.1 L1561.6 3541.9" stroke-width="7"/>
<path d="M1585.8 3443.2 L1574.4 3536.1" stroke-width="7"/>
<path d="M1599.2 3437.3 L1587.3 3530.4" stroke-width="7"/>
<path d="M1612.6 3431.4 L1600.1 3524.6" stroke-width="7"/>
<path d="M1626 3425.5 L1613 3518.9" stroke-width="7"/>
<path d="M1639.4 3419.5 L1625.8 3513.1" stroke-width="7"/>
<path d="M1652.8 3413.6 L1638.6 3507.4" stroke-width="7"/>
<path d="M1314.8 3561.4 L1655.7 3413.6" stroke-width="4"/>
<path d="M939.8 3294.3 L973.9 3271.6 L1371.6 3101.1 L1400 3112.5 L1422.7 3115.3 L1454 3112.5 L1468.2 3129.5 L1468.2 3143.8 L1490.9 3155.1 L1633 3149.4 L1661.4 3160.8 L1695.5 3197.7 L1712.5 3237.5 L1706.8 3265.9 L1684.1 3283 L1661.4 3294.3 L1297.7 3459.1 L1252.3 3467.6 L1218.2 3470.5 L1195.5 3456.2 L1186.9 3442 L1013.6 3322.7 L990.9 3334.1 L956.8 3328.4 Z" stroke-width="6"/>
<path d="M971 3295.5 L1365.9 3125 L1400 3135.2 L1445.5 3153.4 L1468.2 3163.6 L1490.9 3172.2 L1627.3 3166.5 L1655.7 3180.7 L1678.4 3214.8 L1689.8 3240.3 L1667 3231.8 L1644.3 3243.2 L1635.8 3268.8 L1292 3436.4 L1246.6 3444.9 L1223.9 3431.8 L1022.2 3306.8 L996.6 3300 Z" stroke-width="4"/>
<ellipse cx="979.5" cy="3319.9" rx="17" ry="9.1" transform="rotate(-5 979.5 3319.9)"/>
<ellipse cx="1431.2" cy="3123.9" rx="18.2" ry="9.1" transform="rotate(-5 1431.2 3123.9)"/>
<ellipse cx="1667" cy="3251.7" rx="18.2" ry="9.7" transform="rotate(-8 1667 3251.7)"/>
<ellipse cx="1221" cy="3450.6" rx="18.2" ry="9.1" transform="rotate(-5 1221 3450.6)"/>
<path d="M1226.7 3183.5 L1383 3277.3" stroke-width="4"/>
<path d="M1236.4 3175 L1392 3268.8" stroke-width="4"/>
<path d="M1144.3 3226.1 L1229.5 3177.8" stroke-width="4"/>
<path d="M1141.5 3231.8 L1294.9 3319.9" stroke-width="4"/>
<path d="M1150 3223.3 L1303.4 3312.5" stroke-width="4"/>
<path d="M1392 3268.8 L1380.1 3288.6 L1309.1 3322.7 L1294.9 3319.9" stroke-width="4"/>
<path d="M1374.4 3248.9 L1371.6 3317" stroke-width="4"/>
<path d="M 1300.6 3295.5 L 1320.5 3277.3 L 1354.5 3280.1 L 1358 3294.3 L 1331.8 3314.2 L 1306.2 3311.4 Z" stroke-width="4" fill="#fff"/>
<ellipse cx="1334.7" cy="3291.5" rx="4.5" ry="4.5" fill="#222"/>
<path d="M1354.5 3220.5 L1400 3214.8 L1445.5 3220.5 L1462.5 3237.5" stroke-width="4"/>
<path d="M1206.8 3288.6 L1297.7 3246" stroke-width="4"/>
<path d="M979.5 3319.9 L976.7 3425" stroke-dasharray="40 10 8 10"/>
<path d="M973.9 3521.6 L965.3 3635.2" stroke-dasharray="60 12 10 12"/>
<path d="M1218.2 3652.3 L1212.5 3765.9" stroke-dasharray="60 12 10 12"/>
<path d="M1660.2 3425 L1654 3572.7" stroke-dasharray="60 12 10 12"/>
<text x="1730.7" y="3312.5">20</text>
<path d="M1704 3254.5 L1738.1 3284.1" stroke-width="3"/>
<text x="1746.6" y="3443.2">19</text>
<path d="M1706.8 3376.7 L1746.6 3413.6" stroke-width="3"/>
<g transform="translate(967 3643.8) rotate(0) scale(0.95)" stroke-width="3.78947"><path d="M-18 8 Q-18 0 0 0 Q18 0 18 8 L18 96 L-18 96 Z" fill="#fff"/><path d="M-18 19.3333 Q0 26.3333 18 19.3333"/><path d="M-18 34.6667 Q0 41.6667 18 34.6667"/><path d="M-18 50 Q0 57 18 50"/><path d="M-18 65.3333 Q0 72.3333 18 65.3333"/><path d="M-18 80.6667 Q0 87.6667 18 80.6667"/><ellipse cx="0" cy="14" rx="9" ry="4" stroke-width="2.5"/><path d="M-38 94 L-30 124 Q0 138 30 124 L38 94 Q0 116 -38 94 Z" fill="#2a2a2a"/><path d="M-38 94 Q-38 78 0 78 Q38 78 38 94 Q0 118 -38 94 Z" fill="#fff"/><path d="M-18 92 Q0 102 18 92" fill="none"/><path d="M-22 116 L-18 126 M0 120 L0 132 M22 116 L18 126" stroke="#ddd" stroke-width="3"/></g>
<g transform="translate(1655.7 3575.6) rotate(0) scale(0.95)" stroke-width="3.78947"><path d="M-18 8 Q-18 0 0 0 Q18 0 18 8 L18 96 L-18 96 Z" fill="#fff"/><path d="M-18 19.3333 Q0 26.3333 18 19.3333"/><path d="M-18 34.6667 Q0 41.6667 18 34.6667"/><path d="M-18 50 Q0 57 18 50"/><path d="M-18 65.3333 Q0 72.3333 18 65.3333"/><path d="M-18 80.6667 Q0 87.6667 18 80.6667"/><ellipse cx="0" cy="14" rx="9" ry="4" stroke-width="2.5"/><path d="M-38 94 L-30 124 Q0 138 30 124 L38 94 Q0 116 -38 94 Z" fill="#2a2a2a"/><path d="M-38 94 Q-38 78 0 78 Q38 78 38 94 Q0 118 -38 94 Z" fill="#fff"/><path d="M-18 92 Q0 102 18 92" fill="none"/><path d="M-22 116 L-18 126 M0 120 L0 132 M22 116 L18 126" stroke="#ddd" stroke-width="3"/></g>
</g>
<!-- 80_small.svg -->
<g>
<path d="M439.9 3231.3 L432.3 3355.1" stroke-dasharray="90 14 12 14"/>
<path d="M429.8 3403 L424.7 3476.3" stroke-width="4"/>
<path d="M422.2 3600 L419.7 3690.9" stroke-width="4"/>
<path d="M657.1 3350 L652 3463.6" stroke-dasharray="90 14 12 14"/>
<path d="M 321.2 3327.3 L 366.7 3304.5 L 492.9 3372.7 L 490.4 3382.8 L 472.7 3387.9 L 462.6 3382.8 L 457.6 3392.9 L 447.5 3398 L 326.3 3333.3 Z" stroke-width="4" fill="#fff"/>
<ellipse cx="432.3" cy="3362.6" rx="9.1" ry="5.1" stroke-width="4"/>
<text x="246.5" y="3296">10</text>
<path d="M296 3291.9 L323.7 3322.2" stroke-width="3"/>
<path d="M 275.8 3491.4 L 308.6 3472.7 L 470.2 3491.4 L 543.4 3531.8 L 549.5 3549.5 L 543.4 3564.6 L 472.7 3600 L 439.9 3597.5 L 278.3 3509.1 Z" stroke-width="0" fill="#fff"/>
<path d="M275.8 3491.4 L278.3 3509.1 L439.9 3597.5"/>
<path d="M439.9 3597.5 C444.0 3599.0 449.9 3603.4 457.6 3604 C465.3 3604.6 469.2 3600.9 472.7 3600"/>
<path d="M472.7 3600 L543.4 3564.6"/>
<path d="M543.4 3564.6 C545.2 3561.1 551.0 3557.2 551 3549.5 C551.0 3541.8 545.2 3535.9 543.4 3531.8"/>
<path d="M543.4 3531.8 L472.7 3493.9"/>
<path d="M275.8 3491.4 L308.6 3472.7"/>
<path d="M283.3 3499 L442.4 3584.8 L470.2 3588.9 L538.4 3554.5" stroke-width="4"/>
<path d="M301 3499 L452.5 3577.3 L462.6 3569.7 L308.6 3488.9" stroke-width="4"/>
<path d="M308.6 3472.7 C311.1 3468.9 310.6 3459.9 321.2 3453.5 C331.8 3447.1 345.4 3440.9 361.6 3440.9 C377.8 3440.9 390.9 3448.4 402 3453.5 C413.1 3458.6 414.2 3463.7 417.2 3466.2"/>
<path d="M313.6 3481.3 C317.1 3477.8 320.7 3469.2 331.3 3463.6 C341.9 3458.0 353.6 3452.0 366.7 3453.5 C379.8 3455.0 390.9 3467.7 397 3471.2" stroke-width="4"/>
<path d="M321.2 3483.8 L386.9 3519.2" stroke-width="4"/>
<path d="M386.9 3519.2 L391.9 3493.9 L399.5 3473.7" stroke-width="4"/>
<path d="M 394.4 3486.4 L 397 3534.3 Q 429.8 3554.5 472.7 3531.8 L 466.7 3483.8 Z" stroke-width="0" fill="#fff"/>
<path d="M394.4 3488.9 L397 3534.3"/>
<path d="M397 3534.3 C405.7 3539.0 409.6 3552.7 429.8 3552 C450.0 3551.3 461.3 3537.2 472.7 3531.8"/>
<path d="M472.7 3531.8 L466.7 3486.4"/>
<path d="M417.2 3514.1 C421.9 3515.3 425.6 3521.6 437.4 3519.2 C449.2 3516.8 460.6 3507.5 467.7 3504" stroke-width="7"/>
<ellipse cx="430.3" cy="3484.8" rx="36.4" ry="20.2" transform="rotate(-5 430.3 3484.8)" fill="#fff"/>
<ellipse cx="423.2" cy="3486.4" rx="11.1" ry="8.1" stroke-width="4"/>
<path d="M482.8 3504 L523.2 3529.3 L530.8 3544.4 L523.2 3549.5 L482.8 3526.8" stroke-width="4"/>
<ellipse cx="487.9" cy="3557.1" rx="3" ry="3" fill="#222"/>
<text x="224.2" y="3449.5">11</text>
<path d="M265.7 3453.5 L301 3483.8" stroke-width="3"/>
<g transform="translate(419.7 3701) rotate(0) scale(1)" stroke-width="3.6"><path d="M-16 6 Q-16 0 0 0 Q16 0 16 6 L16 60 L-16 60 Z" fill="#fff"/><path d="M-16 12 Q0 19 16 12"/><path d="M-16 24 Q0 31 16 24"/><path d="M-16 36 Q0 43 16 36"/><path d="M-16 48 Q0 55 16 48"/><path d="M-23.2 60 L-23.2 90 Q-23.2 100 0 100 Q23.2 100 23.2 90 L23.2 60 Q0 68 -23.2 60 Z" fill="#fff"/><ellipse cx="0" cy="88" rx="14.384" ry="7"/><path d="M-23.2 78 Q0 90 23.2 78"/></g>
<text x="312.1" y="3732.3">12</text>
<path d="M366.7 3733.8 L397 3761.6" stroke-width="3"/>
<path d="M 634.3 3473.7 L 634.3 3534.3 L 639.4 3554.5 L 629.3 3731.3 L 624.2 3776.8 L 664.6 3776.8 L 667.2 3554.5 L 674.7 3534.3 L 674.7 3473.7 Z" stroke-width="0" fill="#fff"/>
<ellipse cx="654.5" cy="3472.7" rx="20.2" ry="7.1" fill="#fff"/>
<ellipse cx="654.5" cy="3473.7" rx="7.1" ry="3.5" stroke-width="3" fill="#222"/>
<path d="M634.3 3473.7 L634.3 3534.3"/>
<path d="M674.7 3473.7 L674.7 3534.3"/>
<path d="M634.3 3534.3 C639.7 3536.3 643.7 3541.9 654.5 3541.9 C665.3 3541.9 669.3 3536.3 674.7 3534.3" stroke-width="4"/>
<path d="M635.4 3534.3 L640.4 3554.5" stroke-width="4"/>
<path d="M673.7 3534.3 L667.7 3554.5" stroke-width="4"/>
<path d="M640.4 3554.5 L629.3 3731.3" stroke-width="4"/>
<path d="M667.7 3554.5 L665.7 3731.3" stroke-width="4"/>
<path d="M640.2 3557.1 C643.9 3558.4 646.6 3562.1 653.9 3562.1 C661.2 3562.1 663.9 3558.4 667.6 3557.1" stroke-width="8"/>
<path d="M639.5 3569.2 C643.2 3570.5 646.0 3574.2 653.5 3574.2 C661.0 3574.2 663.8 3570.5 667.5 3569.2" stroke-width="8"/>
<path d="M638.7 3581.3 C642.5 3582.7 645.3 3586.4 653 3586.4 C660.7 3586.4 663.6 3582.7 667.4 3581.3" stroke-width="8"/>
<path d="M638 3593.4 C641.9 3594.8 644.8 3598.5 652.6 3598.5 C660.4 3598.5 663.3 3594.8 667.2 3593.4" stroke-width="8"/>
<path d="M637.2 3605.6 C641.2 3606.9 644.1 3610.6 652.1 3610.6 C660.1 3610.6 663.1 3606.9 667.1 3605.6" stroke-width="8"/>
<path d="M636.4 3617.7 C640.5 3619.0 643.5 3622.7 651.7 3622.7 C659.9 3622.7 662.9 3619.0 667 3617.7" stroke-width="8"/>
<path d="M635.7 3629.8 C639.8 3631.1 642.9 3634.8 651.2 3634.8 C659.5 3634.8 662.6 3631.1 666.8 3629.8" stroke-width="8"/>
<path d="M634.9 3641.9 C639.1 3643.3 642.3 3647.0 650.8 3647 C659.3 3647.0 662.5 3643.3 666.7 3641.9" stroke-width="8"/>
<path d="M634.2 3654 C638.5 3655.4 641.7 3659.1 650.3 3659.1 C658.9 3659.1 662.2 3655.4 666.5 3654" stroke-width="8"/>
<path d="M633.4 3666.2 C637.8 3667.5 641.1 3671.2 649.9 3671.2 C658.7 3671.2 662.0 3667.5 666.4 3666.2" stroke-width="8"/>
<path d="M632.6 3678.3 C637.1 3679.6 640.4 3683.3 649.4 3683.3 C658.4 3683.3 661.8 3679.6 666.3 3678.3" stroke-width="8"/>
<path d="M631.9 3690.4 C636.5 3691.8 639.9 3695.5 649 3695.5 C658.1 3695.5 661.5 3691.8 666.1 3690.4" stroke-width="8"/>
<path d="M631.1 3702.5 C635.7 3703.9 639.2 3707.6 648.5 3707.6 C657.8 3707.6 661.3 3703.9 666 3702.5" stroke-width="8"/>
<path d="M630.3 3714.6 C635.0 3716.0 638.6 3719.7 648.1 3719.7 C657.6 3719.7 661.1 3716.0 665.8 3714.6" stroke-width="8"/>
<path d="M629.6 3726.8 C634.4 3728.1 638.0 3731.8 647.6 3731.8 C657.2 3731.8 660.9 3728.1 665.7 3726.8" stroke-width="8"/>
<path d="M629.3 3731.3 L624.2 3779.3"/>
<path d="M665.7 3731.3 L664.6 3779.3"/>
<path d="M 601.5 3797 Q 604 3779.3 641.9 3776.8 Q 679.8 3779.3 682.3 3797 L 677.3 3827.3 Q 641.9 3852.5 604 3827.3 Z" fill="#fff"/>
<path d="M604 3807.1 C614.1 3812.5 621.7 3827.3 641.9 3827.3 C662.1 3827.3 669.7 3812.5 679.8 3807.1" stroke-width="4"/>
<path d="M624.2 3794.4 C628.9 3795.8 632.5 3799.5 641.9 3799.5 C651.3 3799.5 654.9 3795.8 659.6 3794.4" stroke-width="4"/>
<text x="697.5" y="3710.1">21</text>
<path d="M667.2 3731.3 L700 3701" stroke-width="3"/>
<path d="M641.9 3847.5 L641.9 3877.8" stroke-width="4"/>
<path d="M 624.2 3887.9 L 624.2 3918.2 L 654.5 3918.2 L 654.5 3887.9 Z" stroke-width="4" fill="#fff"/>
<ellipse cx="639.4" cy="3885.4" rx="15.2" ry="5.1" fill="#222"/>
<ellipse cx="635.4" cy="3954.5" rx="36.4" ry="36.4" fill="#fff"/>
<path d="M621.7 3940.9 C625.4 3942.3 628.0 3946.0 635.4 3946 C642.8 3946.0 645.7 3942.3 649.5 3940.9" stroke-width="4"/>
<path d="M624.2 3908.1 L654.5 3908.1" stroke-width="3"/>
<text x="697.5" y="3909.1">22</text>
<path d="M664.6 3933.3 L700 3903" stroke-width="3"/>
</g>
<!-- 91_dip.svg -->
<g>
<path d="M1813.1 2371.5 L1857.3 2311.5" stroke-width="4"/>
<path d="M1857.3 2311.5 L2305.6 2589.3" stroke-width="4" stroke-dasharray="120 14 12 14"/>
<path d="M2305.6 2589.3 L2349.7 2541.9" stroke-width="4"/>
<path d="M2378.2 2504 L2400.3 2475.6" stroke-width="4" stroke-dasharray="24 10"/>
<ellipse cx="2371.8" cy="2528" rx="58.1" ry="25.3" transform="rotate(25 2371.8 2528)" fill="#fff"/>
<ellipse cx="2368.7" cy="2519.8" rx="58.1" ry="25.3" transform="rotate(25 2368.7 2519.8)" fill="#fff"/>
<ellipse cx="2371.8" cy="2517.9" rx="29" ry="11.4" transform="rotate(25 2371.8 2517.9)" fill="#333"/>
<path d="M 2397.1 2456.7 L 2412.9 2478.8 L 2431.8 2472.5 L 2517 2365.2 L 2476 2339.9 Z" fill="#fff"/>
<path d="M2406.6 2469.3 L2494.9 2352.5" stroke-width="4"/>
<path d="M2419.2 2450.4 L2431.8 2472.5" stroke-width="4"/>
<path d="M2450.8 2377.8 L2482.3 2396.7" stroke-width="8"/>
<path d="M2476 2339.9 L2488.6 2352.5 L2482.3 2377.8" stroke-width="4"/>
<path d="M 2469.7 2314.6 L 2498.1 2248.4 L 2583.3 2308.3 L 2558.1 2365.2 Z" stroke-width="0" fill="#fff"/>
<ellipse cx="2539.1" cy="2295.7" rx="54.3" ry="16.4" transform="rotate(25 2539.1 2295.7)" fill="#fff"/>
<ellipse cx="2529" cy="2307.1" rx="54.3" ry="16.4" transform="rotate(25 2529 2307.1)" fill="#fff"/>
<ellipse cx="2518.9" cy="2318.4" rx="54.3" ry="16.4" transform="rotate(25 2518.9 2318.4)" fill="#fff"/>
<ellipse cx="2508.8" cy="2329.8" rx="54.3" ry="16.4" transform="rotate(25 2508.8 2329.8)" fill="#fff"/>
<ellipse cx="2498.7" cy="2341.2" rx="54.3" ry="16.4" transform="rotate(25 2498.7 2341.2)" fill="#fff"/>
<path d="M2466.5 2317.8 L2476 2343.1" stroke-width="4"/>
<path d="M 2501.3 2226.3 L 2570.7 2160 L 2589.6 2160 L 2643.3 2197.9 L 2646.5 2219.9 L 2627.5 2295.7 L 2602.3 2302 L 2507.6 2245.2 Z" fill="#fff"/>
<ellipse cx="2565.7" cy="2262.9" rx="68.2" ry="21.5" transform="rotate(27 2565.7 2262.9)" fill="#fff"/>
<path d="M 2507.6 2223.1 L 2570.7 2160 L 2589.6 2160 L 2643.3 2197.9 L 2645.2 2219.9 L 2624.4 2283.1 L 2526.5 2226.3 Z" fill="#fff"/>
<path d="M2589.6 2160 L2630.7 2204.2 L2624.4 2283.1" stroke-width="4"/>
<path d="M2630.7 2204.2 L2643.3 2197.9" stroke-width="4"/>
<path d="M2532.8 2235.7 C2540.4 2238.2 2556.8 2240.8 2570.7 2248.4 C2584.6 2256.0 2596.0 2268.6 2602.3 2273.6" stroke-width="4"/>
<text x="2529.7" y="2464.3">24</text>
<path d="M2498.1 2390.4 L2532.8 2428.3" stroke-width="3"/>
<text x="2431.8" y="2618.9">25</text>
<path d="M2412.9 2554.5 L2438.1 2579.8" stroke-width="3"/>
</g>
<!-- 92_label1.svg -->
<g>
<path d="M823.1 1882.2 L542.8 2160.6 L806.1 2422" stroke-width="2.5"/>
<text x="513.6" y="2175">1</text>
</g>
<!-- 93_s26.svg -->
<g>
<g transform="translate(1211.6 3770.5) rotate(0) scale(1)" stroke-width="3.6"><path d="M-18 8 Q-18 0 0 0 Q18 0 18 8 L18 99 L-18 99 Z" fill="#fff"/><path d="M-18 19.8333 Q0 26.8333 18 19.8333"/><path d="M-18 35.6667 Q0 42.6667 18 35.6667"/><path d="M-18 51.5 Q0 58.5 18 51.5"/><path d="M-18 67.3333 Q0 74.3333 18 67.3333"/><path d="M-18 83.1667 Q0 90.1667 18 83.1667"/><ellipse cx="0" cy="14" rx="9" ry="4" stroke-width="2.5"/><path d="M-38 97 L-30 127 Q0 141 30 127 L38 97 Q0 119 -38 97 Z" fill="#2a2a2a"/><path d="M-38 97 Q-38 81 0 81 Q38 81 38 97 Q0 121 -38 97 Z" fill="#fff"/><path d="M-18 95 Q0 105 18 95" fill="none"/><path d="M-22 119 L-18 129 M0 123 L0 135 M22 119 L18 129" stroke="#ddd" stroke-width="3"/></g>
<text x="1255.1" y="3938.9">26</text>
<path d="M1244.4 3880.3 L1259.6 3898" stroke-width="3"/>
</g>
<!-- 95_qr.svg -->
<path d="M93.0 4163.0h55.7v7.9h-55.7zM156.6 4163.0h8.0v7.9h-8.0zM172.5 4163.0h23.9v7.9h-23.9zM204.3 4163.0h55.7v7.9h-55.7zM93.0 4170.9h8.0v7.9h-8.0zM140.7 4170.9h8.0v7.9h-8.0zM180.5 4170.9h8.0v7.9h-8.0zM204.3 4170.9h8.0v7.9h-8.0zM252.0 4170.9h8.0v7.9h-8.0zM93.0 4178.8h8.0v7.9h-8.0zM108.9 4178.8h23.9v7.9h-23.9zM140.7 4178.8h8.0v7.9h-8.0zM156.6 4178.8h15.9v7.9h-15.9zM180.5 4178.8h8.0v7.9h-8.0zM204.3 4178.8h8.0v7.9h-8.0zM220.2 4178.8h23.9v7.9h-23.9zM252.0 4178.8h8.0v7.9h-8.0zM93.0 4186.6h8.0v7.9h-8.0zM108.9 4186.6h23.9v7.9h-23.9zM140.7 4186.6h8.0v7.9h-8.0zM156.6 4186.6h8.0v7.9h-8.0zM188.4 4186.6h8.0v7.9h-8.0zM204.3 4186.6h8.0v7.9h-8.0zM220.2 4186.6h23.9v7.9h-23.9zM252.0 4186.6h8.0v7.9h-8.0zM93.0 4194.5h8.0v7.9h-8.0zM108.9 4194.5h23.9v7.9h-23.9zM140.7 4194.5h8.0v7.9h-8.0zM156.6 4194.5h8.0v7.9h-8.0zM180.5 4194.5h8.0v7.9h-8.0zM204.3 4194.5h8.0v7.9h-8.0zM220.2 4194.5h23.9v7.9h-23.9zM252.0 4194.5h8.0v7.9h-8.0zM93.0 4202.4h8.0v7.9h-8.0zM140.7 4202.4h8.0v7.9h-8.0zM164.6 4202.4h31.8v7.9h-31.8zM204.3 4202.4h8.0v7.9h-8.0zM252.0 4202.4h8.0v7.9h-8.0zM93.0 4210.3h55.7v7.9h-55.7zM156.6 4210.3h8.0v7.9h-8.0zM172.5 4210.3h8.0v7.9h-8.0zM188.4 4210.3h8.0v7.9h-8.0zM204.3 4210.3h55.7v7.9h-55.7zM180.5 4218.2h15.9v7.9h-15.9zM93.0 4226.0h31.8v7.9h-31.8zM140.7 4226.0h8.0v7.9h-8.0zM156.6 4226.0h47.7v7.9h-47.7zM220.2 4226.0h23.9v7.9h-23.9zM252.0 4226.0h8.0v7.9h-8.0zM93.0 4233.9h15.9v7.9h-15.9zM116.9 4233.9h8.0v7.9h-8.0zM132.8 4233.9h8.0v7.9h-8.0zM156.6 4233.9h15.9v7.9h-15.9zM180.5 4233.9h15.9v7.9h-15.9zM212.3 4233.9h8.0v7.9h-8.0zM228.2 4233.9h8.0v7.9h-8.0zM244.1 4233.9h8.0v7.9h-8.0zM93.0 4241.8h8.0v7.9h-8.0zM108.9 4241.8h23.9v7.9h-23.9zM140.7 4241.8h15.9v7.9h-15.9zM164.6 4241.8h23.9v7.9h-23.9zM204.3 4241.8h8.0v7.9h-8.0zM228.2 4241.8h8.0v7.9h-8.0zM93.0 4249.7h8.0v7.9h-8.0zM108.9 4249.7h15.9v7.9h-15.9zM148.7 4249.7h39.8v7.9h-39.8zM196.4 4249.7h8.0v7.9h-8.0zM220.2 4249.7h8.0v7.9h-8.0zM236.1 4249.7h15.9v7.9h-15.9zM101.0 4257.6h15.9v7.9h-15.9zM124.8 4257.6h23.9v7.9h-23.9zM188.4 4257.6h8.0v7.9h-8.0zM212.3 4257.6h8.0v7.9h-8.0zM228.2 4257.6h31.8v7.9h-31.8zM156.6 4265.5h31.8v7.9h-31.8zM204.3 4265.5h8.0v7.9h-8.0zM228.2 4265.5h15.9v7.9h-15.9zM252.0 4265.5h8.0v7.9h-8.0zM93.0 4273.3h55.7v7.9h-55.7zM164.6 4273.3h47.7v7.9h-47.7zM244.1 4273.3h8.0v7.9h-8.0zM93.0 4281.2h8.0v7.9h-8.0zM140.7 4281.2h8.0v7.9h-8.0zM196.4 4281.2h15.9v7.9h-15.9zM220.2 4281.2h8.0v7.9h-8.0zM252.0 4281.2h8.0v7.9h-8.0zM93.0 4289.1h8.0v7.9h-8.0zM108.9 4289.1h23.9v7.9h-23.9zM140.7 4289.1h8.0v7.9h-8.0zM164.6 4289.1h15.9v7.9h-15.9zM188.4 4289.1h31.8v7.9h-31.8zM228.2 4289.1h8.0v7.9h-8.0zM244.1 4289.1h15.9v7.9h-15.9zM93.0 4297.0h8.0v7.9h-8.0zM108.9 4297.0h23.9v7.9h-23.9zM140.7 4297.0h8.0v7.9h-8.0zM156.6 4297.0h8.0v7.9h-8.0zM172.5 4297.0h8.0v7.9h-8.0zM220.2 4297.0h8.0v7.9h-8.0zM236.1 4297.0h15.9v7.9h-15.9zM93.0 4304.9h8.0v7.9h-8.0zM108.9 4304.9h23.9v7.9h-23.9zM140.7 4304.9h8.0v7.9h-8.0zM156.6 4304.9h8.0v7.9h-8.0zM188.4 4304.9h8.0v7.9h-8.0zM204.3 4304.9h8.0v7.9h-8.0zM220.2 4304.9h23.9v7.9h-23.9zM93.0 4312.7h8.0v7.9h-8.0zM140.7 4312.7h8.0v7.9h-8.0zM156.6 4312.7h31.8v7.9h-31.8zM220.2 4312.7h39.8v7.9h-39.8zM93.0 4320.6h55.7v7.9h-55.7zM156.6 4320.6h8.0v7.9h-8.0zM196.4 4320.6h8.0v7.9h-8.0zM228.2 4320.6h23.9v7.9h-23.9z" fill="#111" stroke="none"/>
<!-- 96_late.svg -->
<g>
<path d="M1315.7 828 L1310.6 1000.2" stroke-dasharray="44 12 10 12"/>
</g>
<!-- 97_late2.svg -->
<g>
<path d="M1310.3 980 L1301.7 1164.3" stroke-dasharray="44 12 10 12"/>
</g>

</svg>
<div id="hr2"></div>
<div id="pg">Pagina 5/28</div>
</body>
</html>
